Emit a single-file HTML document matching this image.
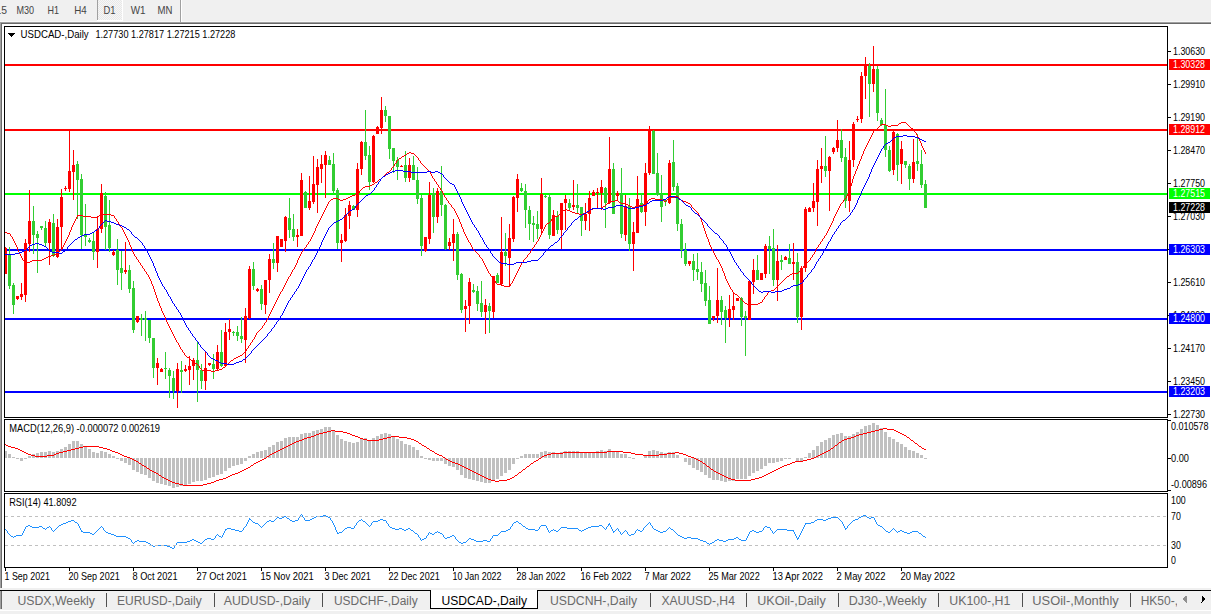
<!DOCTYPE html>
<html><head><meta charset="utf-8"><title>USDCAD-,Daily</title>
<style>html,body{margin:0;padding:0;background:#f0f0f0;overflow:hidden;width:1211px;height:614px}svg{display:block}text{font-family:"Liberation Sans",sans-serif;shape-rendering:auto}</style>
</head><body><svg width="1211" height="614" viewBox="0 0 1211 614" font-family='"Liberation Sans", sans-serif' shape-rendering="crispEdges"><rect x="0" y="0" width="1211" height="614" fill="#f0f0f0"/><rect x="0" y="21" width="1211" height="1" fill="#f8f8f8"/><rect x="0" y="22" width="1211" height="1" fill="#a0a0a0"/><rect x="0" y="23" width="1211" height="1" fill="#696969"/><rect x="0" y="22" width="1" height="567" fill="#a0a0a0"/><rect x="1" y="23" width="1" height="566" fill="#696969"/><rect x="2" y="24" width="1209" height="564" fill="#ffffff"/><defs><pattern id="chk" width="2" height="2" patternUnits="userSpaceOnUse"><rect width="2" height="2" fill="#f6f6f6"/><rect width="1" height="1" fill="#e8e8e8"/><rect x="1" y="1" width="1" height="1" fill="#e8e8e8"/></pattern></defs><rect x="98" y="0" width="24" height="20" fill="url(#chk)"/><rect x="97" y="0" width="1" height="20" fill="#a0a0a0"/><rect x="97" y="20" width="26" height="1" fill="#ffffff"/><rect x="122" y="0" width="1" height="20" fill="#ffffff"/><rect x="180" y="0" width="1" height="22" fill="#a0a0a0"/><rect x="181" y="0" width="1" height="22" fill="#ffffff"/><text x="-4.5" y="14" font-size="10.1" fill="#444444" textLength="11.5" lengthAdjust="spacingAndGlyphs">15</text><text x="16.4" y="14" font-size="10.1" fill="#444444" textLength="17.6" lengthAdjust="spacingAndGlyphs">M30</text><text x="47.5" y="14" font-size="10.1" fill="#444444" textLength="11.5" lengthAdjust="spacingAndGlyphs">H1</text><text x="74.3" y="14" font-size="10.1" fill="#444444" textLength="12.5" lengthAdjust="spacingAndGlyphs">H4</text><text x="103.4" y="14" font-size="10.1" fill="#444444" textLength="12" lengthAdjust="spacingAndGlyphs">D1</text><text x="130.8" y="14" font-size="10.1" fill="#444444" textLength="14.8" lengthAdjust="spacingAndGlyphs">W1</text><text x="157.5" y="14" font-size="10.1" fill="#444444" textLength="14.9" lengthAdjust="spacingAndGlyphs">MN</text><rect x="4.5" y="26.5" width="1163" height="391" fill="none" stroke="#000" stroke-width="1"/><rect x="4.5" y="419.5" width="1163" height="72" fill="none" stroke="#000" stroke-width="1"/><rect x="4.5" y="493.5" width="1163" height="74" fill="none" stroke="#000" stroke-width="1"/><rect x="1168" y="51" width="3" height="1" fill="#000"/><text x="1173" y="55" font-size="10.2" fill="#000" textLength="32" lengthAdjust="spacingAndGlyphs">1.30630</text><rect x="1168" y="84" width="3" height="1" fill="#000"/><text x="1173" y="88" font-size="10.2" fill="#000" textLength="32" lengthAdjust="spacingAndGlyphs">1.29910</text><rect x="1168" y="117" width="3" height="1" fill="#000"/><text x="1173" y="121" font-size="10.2" fill="#000" textLength="32" lengthAdjust="spacingAndGlyphs">1.29190</text><rect x="1168" y="150" width="3" height="1" fill="#000"/><text x="1173" y="154" font-size="10.2" fill="#000" textLength="32" lengthAdjust="spacingAndGlyphs">1.28470</text><rect x="1168" y="183" width="3" height="1" fill="#000"/><text x="1173" y="187" font-size="10.2" fill="#000" textLength="32" lengthAdjust="spacingAndGlyphs">1.27750</text><rect x="1168" y="216" width="3" height="1" fill="#000"/><text x="1173" y="220" font-size="10.2" fill="#000" textLength="32" lengthAdjust="spacingAndGlyphs">1.27030</text><rect x="1168" y="249" width="3" height="1" fill="#000"/><text x="1173" y="253" font-size="10.2" fill="#000" textLength="32" lengthAdjust="spacingAndGlyphs">1.26330</text><rect x="1168" y="282" width="3" height="1" fill="#000"/><text x="1173" y="286" font-size="10.2" fill="#000" textLength="32" lengthAdjust="spacingAndGlyphs">1.25610</text><rect x="1168" y="315" width="3" height="1" fill="#000"/><text x="1173" y="319" font-size="10.2" fill="#000" textLength="32" lengthAdjust="spacingAndGlyphs">1.24890</text><rect x="1168" y="348" width="3" height="1" fill="#000"/><text x="1173" y="352" font-size="10.2" fill="#000" textLength="32" lengthAdjust="spacingAndGlyphs">1.24170</text><rect x="1168" y="381" width="3" height="1" fill="#000"/><text x="1173" y="385" font-size="10.2" fill="#000" textLength="32" lengthAdjust="spacingAndGlyphs">1.23450</text><rect x="1168" y="414" width="3" height="1" fill="#000"/><text x="1173" y="418" font-size="10.2" fill="#000" textLength="32" lengthAdjust="spacingAndGlyphs">1.22730</text><rect x="5" y="568" width="1" height="3" fill="#000"/><text x="4.5" y="580" font-size="10.2" fill="#000" textLength="45.5" lengthAdjust="spacingAndGlyphs">1 Sep 2021</text><rect x="69" y="568" width="1" height="3" fill="#000"/><text x="68.5" y="580" font-size="10.2" fill="#000" textLength="51.2" lengthAdjust="spacingAndGlyphs">20 Sep 2021</text><rect x="133" y="568" width="1" height="3" fill="#000"/><text x="132.5" y="580" font-size="10.2" fill="#000" textLength="45" lengthAdjust="spacingAndGlyphs">8 Oct 2021</text><rect x="197" y="568" width="1" height="3" fill="#000"/><text x="196.5" y="580" font-size="10.2" fill="#000" textLength="50.4" lengthAdjust="spacingAndGlyphs">27 Oct 2021</text><rect x="261" y="568" width="1" height="3" fill="#000"/><text x="260.5" y="580" font-size="10.2" fill="#000" textLength="53.2" lengthAdjust="spacingAndGlyphs">15 Nov 2021</text><rect x="325" y="568" width="1" height="3" fill="#000"/><text x="324.5" y="580" font-size="10.2" fill="#000" textLength="46.3" lengthAdjust="spacingAndGlyphs">3 Dec 2021</text><rect x="389" y="568" width="1" height="3" fill="#000"/><text x="388.5" y="580" font-size="10.2" fill="#000" textLength="51.2" lengthAdjust="spacingAndGlyphs">22 Dec 2021</text><rect x="453" y="568" width="1" height="3" fill="#000"/><text x="452.5" y="580" font-size="10.2" fill="#000" textLength="49" lengthAdjust="spacingAndGlyphs">10 Jan 2022</text><rect x="517" y="568" width="1" height="3" fill="#000"/><text x="516.5" y="580" font-size="10.2" fill="#000" textLength="49" lengthAdjust="spacingAndGlyphs">28 Jan 2022</text><rect x="581" y="568" width="1" height="3" fill="#000"/><text x="580.5" y="580" font-size="10.2" fill="#000" textLength="51.2" lengthAdjust="spacingAndGlyphs">16 Feb 2022</text><rect x="645" y="568" width="1" height="3" fill="#000"/><text x="644.5" y="580" font-size="10.2" fill="#000" textLength="46.3" lengthAdjust="spacingAndGlyphs">7 Mar 2022</text><rect x="709" y="568" width="1" height="3" fill="#000"/><text x="708.5" y="580" font-size="10.2" fill="#000" textLength="51.2" lengthAdjust="spacingAndGlyphs">25 Mar 2022</text><rect x="773" y="568" width="1" height="3" fill="#000"/><text x="772.5" y="580" font-size="10.2" fill="#000" textLength="50.4" lengthAdjust="spacingAndGlyphs">13 Apr 2022</text><rect x="837" y="568" width="1" height="3" fill="#000"/><text x="836.5" y="580" font-size="10.2" fill="#000" textLength="49" lengthAdjust="spacingAndGlyphs">2 May 2022</text><rect x="901" y="568" width="1" height="3" fill="#000"/><text x="900.5" y="580" font-size="10.2" fill="#000" textLength="54.5" lengthAdjust="spacingAndGlyphs">20 May 2022</text><g clip-path="url(#mainclip)"><clipPath id="mainclip"><rect x="5" y="27" width="1162" height="390"/></clipPath><rect x="5" y="64" width="1162" height="2" fill="#ff0000"/><rect x="5" y="129" width="1162" height="2" fill="#ff0000"/><rect x="5" y="193" width="1162" height="2" fill="#00ff00"/><rect x="5" y="249" width="1162" height="2" fill="#0000ff"/><rect x="5" y="318" width="1162" height="2" fill="#0000ff"/><rect x="5" y="391" width="1162" height="2" fill="#0000ff"/><rect x="5" y="247" width="1" height="27" fill="#ff0000"/><rect x="4" y="248" width="3" height="26" fill="#ff0000"/><rect x="9" y="247" width="1" height="42" fill="#32cd32"/><rect x="8" y="254" width="3" height="32" fill="#32cd32"/><rect x="13" y="283" width="1" height="31" fill="#32cd32"/><rect x="12" y="285" width="3" height="20" fill="#32cd32"/><rect x="17" y="296" width="1" height="4" fill="#ff0000"/><rect x="16" y="296" width="3" height="3" fill="#ff0000"/><rect x="21" y="283" width="1" height="17" fill="#ff0000"/><rect x="20" y="294" width="3" height="3" fill="#ff0000"/><rect x="25" y="239" width="1" height="63" fill="#ff0000"/><rect x="24" y="243" width="3" height="52" fill="#ff0000"/><rect x="29" y="190" width="1" height="62" fill="#ff0000"/><rect x="28" y="221" width="3" height="23" fill="#ff0000"/><rect x="33" y="206" width="1" height="48" fill="#32cd32"/><rect x="32" y="221" width="3" height="14" fill="#32cd32"/><rect x="37" y="231" width="1" height="42" fill="#32cd32"/><rect x="36" y="234" width="3" height="4" fill="#32cd32"/><rect x="41" y="226" width="1" height="4" fill="#32cd32"/><rect x="40" y="226" width="3" height="2" fill="#32cd32"/><rect x="45" y="221" width="1" height="26" fill="#32cd32"/><rect x="44" y="228" width="3" height="15" fill="#32cd32"/><rect x="49" y="219" width="1" height="46" fill="#ff0000"/><rect x="48" y="222" width="3" height="21" fill="#ff0000"/><rect x="53" y="214" width="1" height="43" fill="#32cd32"/><rect x="52" y="223" width="3" height="33" fill="#32cd32"/><rect x="57" y="219" width="1" height="39" fill="#ff0000"/><rect x="56" y="227" width="3" height="30" fill="#ff0000"/><rect x="61" y="189" width="1" height="60" fill="#ff0000"/><rect x="60" y="197" width="3" height="30" fill="#ff0000"/><rect x="65" y="186" width="1" height="5" fill="#ff0000"/><rect x="64" y="188" width="3" height="1" fill="#ff0000"/><rect x="69" y="130" width="1" height="62" fill="#ff0000"/><rect x="68" y="171" width="3" height="18" fill="#ff0000"/><rect x="73" y="150" width="1" height="50" fill="#ff0000"/><rect x="72" y="165" width="3" height="7" fill="#ff0000"/><rect x="77" y="161" width="1" height="58" fill="#32cd32"/><rect x="76" y="164" width="3" height="16" fill="#32cd32"/><rect x="81" y="174" width="1" height="75" fill="#32cd32"/><rect x="80" y="179" width="3" height="56" fill="#32cd32"/><rect x="85" y="204" width="1" height="42" fill="#32cd32"/><rect x="84" y="235" width="3" height="2" fill="#32cd32"/><rect x="89" y="238" width="1" height="5" fill="#32cd32"/><rect x="88" y="240" width="3" height="2" fill="#32cd32"/><rect x="93" y="232" width="1" height="28" fill="#32cd32"/><rect x="92" y="241" width="3" height="11" fill="#32cd32"/><rect x="97" y="216" width="1" height="52" fill="#ff0000"/><rect x="96" y="229" width="3" height="23" fill="#ff0000"/><rect x="101" y="184" width="1" height="49" fill="#ff0000"/><rect x="100" y="193" width="3" height="36" fill="#ff0000"/><rect x="105" y="192" width="1" height="58" fill="#32cd32"/><rect x="104" y="196" width="3" height="31" fill="#32cd32"/><rect x="109" y="200" width="1" height="52" fill="#32cd32"/><rect x="108" y="225" width="3" height="23" fill="#32cd32"/><rect x="113" y="250" width="1" height="6" fill="#ff0000"/><rect x="112" y="252" width="3" height="3" fill="#ff0000"/><rect x="117" y="239" width="1" height="46" fill="#32cd32"/><rect x="116" y="250" width="3" height="20" fill="#32cd32"/><rect x="121" y="251" width="1" height="39" fill="#32cd32"/><rect x="120" y="268" width="3" height="5" fill="#32cd32"/><rect x="125" y="242" width="1" height="32" fill="#ff0000"/><rect x="124" y="270" width="3" height="2" fill="#ff0000"/><rect x="129" y="265" width="1" height="28" fill="#32cd32"/><rect x="128" y="270" width="3" height="19" fill="#32cd32"/><rect x="133" y="281" width="1" height="52" fill="#32cd32"/><rect x="132" y="288" width="3" height="42" fill="#32cd32"/><rect x="137" y="316" width="1" height="7" fill="#ff0000"/><rect x="136" y="316" width="3" height="6" fill="#ff0000"/><rect x="141" y="314" width="1" height="22" fill="#32cd32"/><rect x="140" y="318" width="3" height="2" fill="#32cd32"/><rect x="145" y="311" width="1" height="30" fill="#32cd32"/><rect x="144" y="318" width="3" height="2" fill="#32cd32"/><rect x="149" y="320" width="1" height="23" fill="#32cd32"/><rect x="148" y="320" width="3" height="18" fill="#32cd32"/><rect x="153" y="338" width="1" height="40" fill="#32cd32"/><rect x="152" y="338" width="3" height="30" fill="#32cd32"/><rect x="157" y="358" width="1" height="27" fill="#ff0000"/><rect x="156" y="363" width="3" height="5" fill="#ff0000"/><rect x="161" y="368" width="1" height="4" fill="#ff0000"/><rect x="160" y="369" width="3" height="3" fill="#ff0000"/><rect x="165" y="352" width="1" height="27" fill="#32cd32"/><rect x="164" y="368" width="3" height="1" fill="#32cd32"/><rect x="169" y="368" width="1" height="30" fill="#32cd32"/><rect x="168" y="370" width="3" height="6" fill="#32cd32"/><rect x="173" y="371" width="1" height="28" fill="#32cd32"/><rect x="172" y="378" width="3" height="13" fill="#32cd32"/><rect x="177" y="363" width="1" height="45" fill="#ff0000"/><rect x="176" y="369" width="3" height="22" fill="#ff0000"/><rect x="181" y="361" width="1" height="32" fill="#32cd32"/><rect x="180" y="370" width="3" height="2" fill="#32cd32"/><rect x="185" y="365" width="1" height="7" fill="#ff0000"/><rect x="184" y="369" width="3" height="2" fill="#ff0000"/><rect x="189" y="356" width="1" height="29" fill="#ff0000"/><rect x="188" y="366" width="3" height="4" fill="#ff0000"/><rect x="193" y="358" width="1" height="22" fill="#ff0000"/><rect x="192" y="360" width="3" height="6" fill="#ff0000"/><rect x="197" y="341" width="1" height="61" fill="#32cd32"/><rect x="196" y="360" width="3" height="10" fill="#32cd32"/><rect x="201" y="364" width="1" height="25" fill="#32cd32"/><rect x="200" y="370" width="3" height="11" fill="#32cd32"/><rect x="205" y="352" width="1" height="38" fill="#ff0000"/><rect x="204" y="368" width="3" height="13" fill="#ff0000"/><rect x="209" y="363" width="1" height="3" fill="#ff0000"/><rect x="208" y="363" width="3" height="2" fill="#ff0000"/><rect x="213" y="354" width="1" height="25" fill="#32cd32"/><rect x="212" y="364" width="3" height="5" fill="#32cd32"/><rect x="217" y="345" width="1" height="25" fill="#ff0000"/><rect x="216" y="352" width="3" height="17" fill="#ff0000"/><rect x="221" y="330" width="1" height="37" fill="#32cd32"/><rect x="220" y="352" width="3" height="14" fill="#32cd32"/><rect x="225" y="323" width="1" height="44" fill="#ff0000"/><rect x="224" y="332" width="3" height="34" fill="#ff0000"/><rect x="229" y="319" width="1" height="21" fill="#ff0000"/><rect x="228" y="329" width="3" height="3" fill="#ff0000"/><rect x="233" y="331" width="1" height="5" fill="#32cd32"/><rect x="232" y="332" width="3" height="1" fill="#32cd32"/><rect x="237" y="326" width="1" height="15" fill="#32cd32"/><rect x="236" y="332" width="3" height="4" fill="#32cd32"/><rect x="241" y="317" width="1" height="26" fill="#32cd32"/><rect x="240" y="336" width="3" height="3" fill="#32cd32"/><rect x="245" y="308" width="1" height="55" fill="#ff0000"/><rect x="244" y="316" width="3" height="24" fill="#ff0000"/><rect x="249" y="266" width="1" height="53" fill="#ff0000"/><rect x="248" y="269" width="3" height="49" fill="#ff0000"/><rect x="253" y="262" width="1" height="28" fill="#32cd32"/><rect x="252" y="269" width="3" height="17" fill="#32cd32"/><rect x="257" y="288" width="1" height="4" fill="#ff0000"/><rect x="256" y="289" width="3" height="2" fill="#ff0000"/><rect x="261" y="285" width="1" height="25" fill="#32cd32"/><rect x="260" y="289" width="3" height="15" fill="#32cd32"/><rect x="265" y="280" width="1" height="34" fill="#ff0000"/><rect x="264" y="280" width="3" height="25" fill="#ff0000"/><rect x="269" y="254" width="1" height="39" fill="#ff0000"/><rect x="268" y="259" width="3" height="21" fill="#ff0000"/><rect x="273" y="243" width="1" height="26" fill="#32cd32"/><rect x="272" y="259" width="3" height="4" fill="#32cd32"/><rect x="277" y="236" width="1" height="36" fill="#ff0000"/><rect x="276" y="236" width="3" height="27" fill="#ff0000"/><rect x="281" y="239" width="1" height="8" fill="#ff0000"/><rect x="280" y="239" width="3" height="8" fill="#ff0000"/><rect x="285" y="216" width="1" height="36" fill="#ff0000"/><rect x="284" y="217" width="3" height="24" fill="#ff0000"/><rect x="289" y="198" width="1" height="40" fill="#32cd32"/><rect x="288" y="218" width="3" height="12" fill="#32cd32"/><rect x="293" y="214" width="1" height="27" fill="#32cd32"/><rect x="292" y="229" width="3" height="8" fill="#32cd32"/><rect x="297" y="229" width="1" height="18" fill="#ff0000"/><rect x="296" y="235" width="3" height="2" fill="#ff0000"/><rect x="301" y="173" width="1" height="63" fill="#ff0000"/><rect x="300" y="180" width="3" height="56" fill="#ff0000"/><rect x="305" y="191" width="1" height="17" fill="#32cd32"/><rect x="304" y="192" width="3" height="16" fill="#32cd32"/><rect x="309" y="176" width="1" height="34" fill="#ff0000"/><rect x="308" y="201" width="3" height="7" fill="#ff0000"/><rect x="313" y="156" width="1" height="48" fill="#ff0000"/><rect x="312" y="184" width="3" height="18" fill="#ff0000"/><rect x="317" y="159" width="1" height="54" fill="#ff0000"/><rect x="316" y="167" width="3" height="18" fill="#ff0000"/><rect x="321" y="155" width="1" height="28" fill="#ff0000"/><rect x="320" y="164" width="3" height="5" fill="#ff0000"/><rect x="325" y="151" width="1" height="47" fill="#ff0000"/><rect x="324" y="155" width="3" height="10" fill="#ff0000"/><rect x="329" y="156" width="1" height="9" fill="#32cd32"/><rect x="328" y="160" width="3" height="5" fill="#32cd32"/><rect x="333" y="153" width="1" height="41" fill="#32cd32"/><rect x="332" y="164" width="3" height="27" fill="#32cd32"/><rect x="337" y="188" width="1" height="61" fill="#32cd32"/><rect x="336" y="190" width="3" height="53" fill="#32cd32"/><rect x="341" y="234" width="1" height="28" fill="#ff0000"/><rect x="340" y="240" width="3" height="3" fill="#ff0000"/><rect x="345" y="208" width="1" height="34" fill="#ff0000"/><rect x="344" y="215" width="3" height="26" fill="#ff0000"/><rect x="349" y="201" width="1" height="28" fill="#ff0000"/><rect x="348" y="205" width="3" height="11" fill="#ff0000"/><rect x="353" y="205" width="1" height="5" fill="#32cd32"/><rect x="352" y="206" width="3" height="4" fill="#32cd32"/><rect x="357" y="163" width="1" height="54" fill="#ff0000"/><rect x="356" y="169" width="3" height="41" fill="#ff0000"/><rect x="361" y="141" width="1" height="34" fill="#ff0000"/><rect x="360" y="142" width="3" height="27" fill="#ff0000"/><rect x="365" y="110" width="1" height="50" fill="#32cd32"/><rect x="364" y="142" width="3" height="14" fill="#32cd32"/><rect x="369" y="146" width="1" height="44" fill="#32cd32"/><rect x="368" y="155" width="3" height="27" fill="#32cd32"/><rect x="373" y="135" width="1" height="48" fill="#ff0000"/><rect x="372" y="136" width="3" height="46" fill="#ff0000"/><rect x="377" y="126" width="1" height="8" fill="#ff0000"/><rect x="376" y="127" width="3" height="7" fill="#ff0000"/><rect x="381" y="97" width="1" height="37" fill="#ff0000"/><rect x="380" y="110" width="3" height="18" fill="#ff0000"/><rect x="385" y="106" width="1" height="16" fill="#32cd32"/><rect x="384" y="110" width="3" height="6" fill="#32cd32"/><rect x="389" y="116" width="1" height="43" fill="#32cd32"/><rect x="388" y="116" width="3" height="33" fill="#32cd32"/><rect x="393" y="148" width="1" height="25" fill="#32cd32"/><rect x="392" y="148" width="3" height="13" fill="#32cd32"/><rect x="397" y="157" width="1" height="23" fill="#32cd32"/><rect x="396" y="160" width="3" height="7" fill="#32cd32"/><rect x="401" y="165" width="1" height="2" fill="#ff0000"/><rect x="400" y="166" width="3" height="1" fill="#ff0000"/><rect x="405" y="151" width="1" height="31" fill="#32cd32"/><rect x="404" y="165" width="3" height="13" fill="#32cd32"/><rect x="409" y="158" width="1" height="24" fill="#ff0000"/><rect x="408" y="165" width="3" height="13" fill="#ff0000"/><rect x="413" y="156" width="1" height="24" fill="#32cd32"/><rect x="412" y="165" width="3" height="15" fill="#32cd32"/><rect x="417" y="167" width="1" height="37" fill="#32cd32"/><rect x="416" y="180" width="3" height="19" fill="#32cd32"/><rect x="421" y="195" width="1" height="61" fill="#32cd32"/><rect x="420" y="198" width="3" height="48" fill="#32cd32"/><rect x="425" y="237" width="1" height="15" fill="#ff0000"/><rect x="424" y="237" width="3" height="14" fill="#ff0000"/><rect x="429" y="182" width="1" height="62" fill="#ff0000"/><rect x="428" y="195" width="3" height="44" fill="#ff0000"/><rect x="433" y="188" width="1" height="45" fill="#32cd32"/><rect x="432" y="193" width="3" height="24" fill="#32cd32"/><rect x="437" y="188" width="1" height="35" fill="#ff0000"/><rect x="436" y="191" width="3" height="26" fill="#ff0000"/><rect x="441" y="166" width="1" height="50" fill="#32cd32"/><rect x="440" y="191" width="3" height="14" fill="#32cd32"/><rect x="445" y="204" width="1" height="46" fill="#32cd32"/><rect x="444" y="205" width="3" height="44" fill="#32cd32"/><rect x="449" y="238" width="1" height="12" fill="#ff0000"/><rect x="448" y="242" width="3" height="4" fill="#ff0000"/><rect x="453" y="219" width="1" height="42" fill="#ff0000"/><rect x="452" y="234" width="3" height="9" fill="#ff0000"/><rect x="457" y="232" width="1" height="48" fill="#32cd32"/><rect x="456" y="234" width="3" height="41" fill="#32cd32"/><rect x="461" y="273" width="1" height="40" fill="#32cd32"/><rect x="460" y="274" width="3" height="36" fill="#32cd32"/><rect x="465" y="300" width="1" height="32" fill="#ff0000"/><rect x="464" y="306" width="3" height="3" fill="#ff0000"/><rect x="469" y="278" width="1" height="46" fill="#ff0000"/><rect x="468" y="282" width="3" height="24" fill="#ff0000"/><rect x="473" y="284" width="1" height="9" fill="#32cd32"/><rect x="472" y="290" width="3" height="2" fill="#32cd32"/><rect x="477" y="286" width="1" height="25" fill="#32cd32"/><rect x="476" y="291" width="3" height="13" fill="#32cd32"/><rect x="481" y="281" width="1" height="36" fill="#32cd32"/><rect x="480" y="303" width="3" height="9" fill="#32cd32"/><rect x="485" y="299" width="1" height="35" fill="#ff0000"/><rect x="484" y="305" width="3" height="7" fill="#ff0000"/><rect x="489" y="303" width="1" height="30" fill="#32cd32"/><rect x="488" y="306" width="3" height="5" fill="#32cd32"/><rect x="493" y="276" width="1" height="42" fill="#ff0000"/><rect x="492" y="276" width="3" height="36" fill="#ff0000"/><rect x="497" y="273" width="1" height="10" fill="#32cd32"/><rect x="496" y="275" width="3" height="8" fill="#32cd32"/><rect x="501" y="217" width="1" height="69" fill="#ff0000"/><rect x="500" y="252" width="3" height="32" fill="#ff0000"/><rect x="505" y="233" width="1" height="33" fill="#32cd32"/><rect x="504" y="252" width="3" height="4" fill="#32cd32"/><rect x="509" y="224" width="1" height="62" fill="#ff0000"/><rect x="508" y="238" width="3" height="20" fill="#ff0000"/><rect x="513" y="196" width="1" height="46" fill="#ff0000"/><rect x="512" y="197" width="3" height="42" fill="#ff0000"/><rect x="517" y="174" width="1" height="38" fill="#ff0000"/><rect x="516" y="179" width="3" height="19" fill="#ff0000"/><rect x="521" y="183" width="1" height="9" fill="#32cd32"/><rect x="520" y="188" width="3" height="3" fill="#32cd32"/><rect x="525" y="184" width="1" height="44" fill="#32cd32"/><rect x="524" y="191" width="3" height="19" fill="#32cd32"/><rect x="529" y="206" width="1" height="34" fill="#32cd32"/><rect x="528" y="210" width="3" height="14" fill="#32cd32"/><rect x="533" y="216" width="1" height="26" fill="#32cd32"/><rect x="532" y="223" width="3" height="2" fill="#32cd32"/><rect x="537" y="211" width="1" height="28" fill="#32cd32"/><rect x="536" y="224" width="3" height="5" fill="#32cd32"/><rect x="541" y="178" width="1" height="57" fill="#ff0000"/><rect x="540" y="194" width="3" height="35" fill="#ff0000"/><rect x="545" y="195" width="1" height="3" fill="#32cd32"/><rect x="544" y="196" width="3" height="1" fill="#32cd32"/><rect x="549" y="193" width="1" height="46" fill="#32cd32"/><rect x="548" y="197" width="3" height="38" fill="#32cd32"/><rect x="553" y="210" width="1" height="26" fill="#ff0000"/><rect x="552" y="215" width="3" height="21" fill="#ff0000"/><rect x="557" y="211" width="1" height="23" fill="#32cd32"/><rect x="556" y="216" width="3" height="14" fill="#32cd32"/><rect x="561" y="203" width="1" height="46" fill="#ff0000"/><rect x="560" y="203" width="3" height="27" fill="#ff0000"/><rect x="565" y="195" width="1" height="35" fill="#ff0000"/><rect x="564" y="199" width="3" height="4" fill="#ff0000"/><rect x="569" y="199" width="1" height="11" fill="#32cd32"/><rect x="568" y="203" width="3" height="5" fill="#32cd32"/><rect x="573" y="180" width="1" height="30" fill="#ff0000"/><rect x="572" y="205" width="3" height="2" fill="#ff0000"/><rect x="577" y="184" width="1" height="30" fill="#32cd32"/><rect x="576" y="205" width="3" height="3" fill="#32cd32"/><rect x="581" y="207" width="1" height="29" fill="#32cd32"/><rect x="580" y="207" width="3" height="14" fill="#32cd32"/><rect x="585" y="203" width="1" height="27" fill="#ff0000"/><rect x="584" y="214" width="3" height="7" fill="#ff0000"/><rect x="589" y="191" width="1" height="40" fill="#ff0000"/><rect x="588" y="198" width="3" height="16" fill="#ff0000"/><rect x="593" y="190" width="1" height="6" fill="#ff0000"/><rect x="592" y="192" width="3" height="4" fill="#ff0000"/><rect x="597" y="188" width="1" height="20" fill="#ff0000"/><rect x="596" y="192" width="3" height="1" fill="#ff0000"/><rect x="601" y="180" width="1" height="30" fill="#ff0000"/><rect x="600" y="187" width="3" height="6" fill="#ff0000"/><rect x="605" y="187" width="1" height="41" fill="#32cd32"/><rect x="604" y="188" width="3" height="15" fill="#32cd32"/><rect x="609" y="137" width="1" height="67" fill="#ff0000"/><rect x="608" y="169" width="3" height="34" fill="#ff0000"/><rect x="613" y="163" width="1" height="51" fill="#32cd32"/><rect x="612" y="169" width="3" height="45" fill="#32cd32"/><rect x="617" y="191" width="1" height="10" fill="#ff0000"/><rect x="616" y="193" width="3" height="3" fill="#ff0000"/><rect x="621" y="168" width="1" height="70" fill="#32cd32"/><rect x="620" y="194" width="3" height="40" fill="#32cd32"/><rect x="625" y="195" width="1" height="46" fill="#ff0000"/><rect x="624" y="206" width="3" height="29" fill="#ff0000"/><rect x="629" y="198" width="1" height="53" fill="#32cd32"/><rect x="628" y="206" width="3" height="38" fill="#32cd32"/><rect x="633" y="222" width="1" height="49" fill="#ff0000"/><rect x="632" y="232" width="3" height="12" fill="#ff0000"/><rect x="637" y="176" width="1" height="57" fill="#ff0000"/><rect x="636" y="199" width="3" height="34" fill="#ff0000"/><rect x="641" y="193" width="1" height="20" fill="#32cd32"/><rect x="640" y="203" width="3" height="9" fill="#32cd32"/><rect x="645" y="163" width="1" height="63" fill="#ff0000"/><rect x="644" y="173" width="3" height="39" fill="#ff0000"/><rect x="649" y="126" width="1" height="49" fill="#ff0000"/><rect x="648" y="131" width="3" height="42" fill="#ff0000"/><rect x="653" y="130" width="1" height="44" fill="#32cd32"/><rect x="652" y="131" width="3" height="43" fill="#32cd32"/><rect x="657" y="153" width="1" height="43" fill="#32cd32"/><rect x="656" y="173" width="3" height="22" fill="#32cd32"/><rect x="661" y="175" width="1" height="47" fill="#32cd32"/><rect x="660" y="194" width="3" height="13" fill="#32cd32"/><rect x="665" y="200" width="1" height="6" fill="#32cd32"/><rect x="664" y="200" width="3" height="2" fill="#32cd32"/><rect x="669" y="160" width="1" height="44" fill="#ff0000"/><rect x="668" y="163" width="3" height="40" fill="#ff0000"/><rect x="673" y="140" width="1" height="51" fill="#32cd32"/><rect x="672" y="162" width="3" height="25" fill="#32cd32"/><rect x="677" y="183" width="1" height="48" fill="#32cd32"/><rect x="676" y="186" width="3" height="38" fill="#32cd32"/><rect x="681" y="219" width="1" height="39" fill="#32cd32"/><rect x="680" y="224" width="3" height="26" fill="#32cd32"/><rect x="685" y="243" width="1" height="23" fill="#32cd32"/><rect x="684" y="250" width="3" height="14" fill="#32cd32"/><rect x="689" y="261" width="1" height="5" fill="#ff0000"/><rect x="688" y="261" width="3" height="3" fill="#ff0000"/><rect x="693" y="254" width="1" height="27" fill="#32cd32"/><rect x="692" y="261" width="3" height="9" fill="#32cd32"/><rect x="697" y="253" width="1" height="27" fill="#32cd32"/><rect x="696" y="269" width="3" height="3" fill="#32cd32"/><rect x="701" y="262" width="1" height="30" fill="#32cd32"/><rect x="700" y="272" width="3" height="12" fill="#32cd32"/><rect x="705" y="270" width="1" height="36" fill="#32cd32"/><rect x="704" y="283" width="3" height="18" fill="#32cd32"/><rect x="709" y="286" width="1" height="38" fill="#32cd32"/><rect x="708" y="300" width="3" height="24" fill="#32cd32"/><rect x="713" y="316" width="1" height="5" fill="#ff0000"/><rect x="712" y="316" width="3" height="2" fill="#ff0000"/><rect x="717" y="268" width="1" height="55" fill="#ff0000"/><rect x="716" y="300" width="3" height="16" fill="#ff0000"/><rect x="721" y="296" width="1" height="29" fill="#32cd32"/><rect x="720" y="300" width="3" height="12" fill="#32cd32"/><rect x="725" y="306" width="1" height="37" fill="#32cd32"/><rect x="724" y="310" width="3" height="8" fill="#32cd32"/><rect x="729" y="295" width="1" height="32" fill="#ff0000"/><rect x="728" y="309" width="3" height="9" fill="#ff0000"/><rect x="733" y="293" width="1" height="27" fill="#ff0000"/><rect x="732" y="306" width="3" height="4" fill="#ff0000"/><rect x="737" y="298" width="1" height="3" fill="#ff0000"/><rect x="736" y="298" width="3" height="3" fill="#ff0000"/><rect x="741" y="297" width="1" height="29" fill="#32cd32"/><rect x="740" y="298" width="3" height="19" fill="#32cd32"/><rect x="745" y="311" width="1" height="45" fill="#32cd32"/><rect x="744" y="316" width="3" height="2" fill="#32cd32"/><rect x="749" y="281" width="1" height="39" fill="#ff0000"/><rect x="748" y="281" width="3" height="39" fill="#ff0000"/><rect x="753" y="259" width="1" height="35" fill="#ff0000"/><rect x="752" y="270" width="3" height="12" fill="#ff0000"/><rect x="757" y="255" width="1" height="25" fill="#32cd32"/><rect x="756" y="270" width="3" height="10" fill="#32cd32"/><rect x="761" y="273" width="1" height="7" fill="#ff0000"/><rect x="760" y="273" width="3" height="7" fill="#ff0000"/><rect x="765" y="244" width="1" height="34" fill="#ff0000"/><rect x="764" y="246" width="3" height="28" fill="#ff0000"/><rect x="769" y="236" width="1" height="38" fill="#32cd32"/><rect x="768" y="246" width="3" height="3" fill="#32cd32"/><rect x="773" y="229" width="1" height="57" fill="#32cd32"/><rect x="772" y="248" width="3" height="32" fill="#32cd32"/><rect x="777" y="245" width="1" height="56" fill="#ff0000"/><rect x="776" y="261" width="3" height="19" fill="#ff0000"/><rect x="781" y="255" width="1" height="15" fill="#32cd32"/><rect x="780" y="260" width="3" height="2" fill="#32cd32"/><rect x="785" y="256" width="1" height="4" fill="#ff0000"/><rect x="784" y="257" width="3" height="3" fill="#ff0000"/><rect x="789" y="244" width="1" height="20" fill="#32cd32"/><rect x="788" y="258" width="3" height="6" fill="#32cd32"/><rect x="793" y="243" width="1" height="37" fill="#ff0000"/><rect x="792" y="262" width="3" height="2" fill="#ff0000"/><rect x="797" y="253" width="1" height="70" fill="#32cd32"/><rect x="796" y="262" width="3" height="55" fill="#32cd32"/><rect x="801" y="266" width="1" height="64" fill="#ff0000"/><rect x="800" y="268" width="3" height="49" fill="#ff0000"/><rect x="805" y="207" width="1" height="65" fill="#ff0000"/><rect x="804" y="209" width="3" height="59" fill="#ff0000"/><rect x="809" y="207" width="1" height="5" fill="#ff0000"/><rect x="808" y="208" width="3" height="4" fill="#ff0000"/><rect x="813" y="183" width="1" height="29" fill="#ff0000"/><rect x="812" y="201" width="3" height="7" fill="#ff0000"/><rect x="817" y="160" width="1" height="66" fill="#ff0000"/><rect x="816" y="169" width="3" height="33" fill="#ff0000"/><rect x="821" y="148" width="1" height="35" fill="#ff0000"/><rect x="820" y="166" width="3" height="3" fill="#ff0000"/><rect x="825" y="136" width="1" height="41" fill="#32cd32"/><rect x="824" y="166" width="3" height="5" fill="#32cd32"/><rect x="829" y="156" width="1" height="55" fill="#ff0000"/><rect x="828" y="157" width="3" height="14" fill="#ff0000"/><rect x="833" y="147" width="1" height="7" fill="#ff0000"/><rect x="832" y="148" width="3" height="4" fill="#ff0000"/><rect x="837" y="120" width="1" height="32" fill="#ff0000"/><rect x="836" y="140" width="3" height="8" fill="#ff0000"/><rect x="841" y="129" width="1" height="33" fill="#32cd32"/><rect x="840" y="140" width="3" height="18" fill="#32cd32"/><rect x="845" y="148" width="1" height="60" fill="#32cd32"/><rect x="844" y="157" width="3" height="44" fill="#32cd32"/><rect x="849" y="141" width="1" height="71" fill="#ff0000"/><rect x="848" y="160" width="3" height="41" fill="#ff0000"/><rect x="853" y="122" width="1" height="45" fill="#ff0000"/><rect x="852" y="124" width="3" height="36" fill="#ff0000"/><rect x="857" y="116" width="1" height="6" fill="#ff0000"/><rect x="856" y="119" width="3" height="1" fill="#ff0000"/><rect x="861" y="72" width="1" height="51" fill="#ff0000"/><rect x="860" y="76" width="3" height="43" fill="#ff0000"/><rect x="865" y="57" width="1" height="42" fill="#ff0000"/><rect x="864" y="66" width="3" height="10" fill="#ff0000"/><rect x="869" y="63" width="1" height="54" fill="#32cd32"/><rect x="868" y="66" width="3" height="18" fill="#32cd32"/><rect x="873" y="46" width="1" height="46" fill="#ff0000"/><rect x="872" y="69" width="3" height="15" fill="#ff0000"/><rect x="877" y="66" width="1" height="55" fill="#32cd32"/><rect x="876" y="69" width="3" height="44" fill="#32cd32"/><rect x="881" y="118" width="1" height="8" fill="#32cd32"/><rect x="880" y="120" width="3" height="5" fill="#32cd32"/><rect x="885" y="89" width="1" height="68" fill="#32cd32"/><rect x="884" y="125" width="3" height="25" fill="#32cd32"/><rect x="889" y="146" width="1" height="26" fill="#32cd32"/><rect x="888" y="150" width="3" height="21" fill="#32cd32"/><rect x="893" y="131" width="1" height="44" fill="#ff0000"/><rect x="892" y="132" width="3" height="38" fill="#ff0000"/><rect x="897" y="133" width="1" height="48" fill="#32cd32"/><rect x="896" y="134" width="3" height="31" fill="#32cd32"/><rect x="901" y="141" width="1" height="43" fill="#ff0000"/><rect x="900" y="149" width="3" height="15" fill="#ff0000"/><rect x="905" y="161" width="1" height="7" fill="#32cd32"/><rect x="904" y="161" width="3" height="4" fill="#32cd32"/><rect x="909" y="164" width="1" height="26" fill="#32cd32"/><rect x="908" y="166" width="3" height="13" fill="#32cd32"/><rect x="913" y="139" width="1" height="44" fill="#ff0000"/><rect x="912" y="162" width="3" height="17" fill="#ff0000"/><rect x="917" y="134" width="1" height="37" fill="#32cd32"/><rect x="916" y="161" width="3" height="3" fill="#32cd32"/><rect x="921" y="150" width="1" height="38" fill="#32cd32"/><rect x="920" y="164" width="3" height="21" fill="#32cd32"/><rect x="925" y="180" width="1" height="28" fill="#32cd32"/><rect x="924" y="184" width="3" height="24" fill="#32cd32"/><path d="M901 122h5v1h-5zM899 123h2v1h-2zM906 123h1v1h-1zM881 124h5v1h-5zM898 124h1v1h-1zM907 124h1v1h-1zM880 125h1v1h-1zM886 125h2v1h-2zM891 125h7v1h-7zM908 125h1v1h-1zM879 126h1v1h-1zM888 126h3v1h-3zM909 126h1v1h-1zM878 127h1v1h-1zM910 127h1v1h-1zM877 128h1v1h-1zM911 128h2v1h-2zM875 129h2v1h-2zM913 129h1v1h-1zM874 130h1v1h-1zM914 130h1v1h-1zM873 131h1v1h-1zM914 131h1v1h-1zM873 132h1v1h-1zM915 132h1v1h-1zM872 133h1v1h-1zM916 133h1v1h-1zM872 134h1v1h-1zM916 134h1v1h-1zM871 135h1v1h-1zM917 135h1v1h-1zM871 136h1v1h-1zM917 136h1v1h-1zM870 137h1v1h-1zM918 137h1v1h-1zM870 138h1v1h-1zM918 138h1v1h-1zM869 139h1v1h-1zM919 139h1v1h-1zM869 140h1v1h-1zM919 140h1v1h-1zM868 141h1v1h-1zM920 141h1v1h-1zM868 142h1v1h-1zM920 142h1v1h-1zM867 143h1v1h-1zM921 143h1v1h-1zM867 144h1v1h-1zM921 144h1v1h-1zM866 145h1v1h-1zM921 145h1v1h-1zM866 146h1v1h-1zM922 146h1v1h-1zM865 147h1v1h-1zM922 147h1v1h-1zM865 148h1v1h-1zM923 148h1v1h-1zM864 149h1v1h-1zM923 149h1v1h-1zM864 150h1v1h-1zM924 150h1v1h-1zM863 151h1v1h-1zM924 151h1v1h-1zM409 152h2v1h-2zM863 152h1v1h-1zM925 152h1v1h-1zM407 153h2v1h-2zM411 153h3v1h-3zM863 153h1v1h-1zM925 153h1v1h-1zM406 154h1v1h-1zM414 154h1v1h-1zM862 154h1v1h-1zM404 155h2v1h-2zM415 155h1v1h-1zM862 155h1v1h-1zM402 156h2v1h-2zM416 156h1v1h-1zM861 156h1v1h-1zM401 157h1v1h-1zM417 157h1v1h-1zM861 157h1v1h-1zM399 158h2v1h-2zM418 158h1v1h-1zM861 158h1v1h-1zM398 159h1v1h-1zM418 159h1v1h-1zM860 159h1v1h-1zM397 160h1v1h-1zM419 160h1v1h-1zM860 160h1v1h-1zM396 161h1v1h-1zM420 161h1v1h-1zM859 161h1v1h-1zM396 162h1v1h-1zM420 162h1v1h-1zM859 162h1v1h-1zM395 163h1v1h-1zM421 163h1v1h-1zM859 163h1v1h-1zM394 164h1v1h-1zM422 164h1v1h-1zM858 164h1v1h-1zM394 165h1v1h-1zM423 165h1v1h-1zM858 165h1v1h-1zM393 166h1v1h-1zM424 166h1v1h-1zM857 166h1v1h-1zM392 167h1v1h-1zM425 167h1v1h-1zM857 167h1v1h-1zM391 168h1v1h-1zM426 168h1v1h-1zM857 168h1v1h-1zM391 169h1v1h-1zM427 169h1v1h-1zM856 169h1v1h-1zM390 170h1v1h-1zM428 170h1v1h-1zM856 170h1v1h-1zM389 171h1v1h-1zM429 171h1v1h-1zM855 171h1v1h-1zM387 172h2v1h-2zM430 172h1v1h-1zM855 172h1v1h-1zM386 173h1v1h-1zM430 173h1v1h-1zM855 173h1v1h-1zM385 174h1v1h-1zM431 174h1v1h-1zM854 174h1v1h-1zM384 175h1v1h-1zM431 175h1v1h-1zM854 175h1v1h-1zM383 176h1v1h-1zM432 176h1v1h-1zM853 176h1v1h-1zM382 177h1v1h-1zM432 177h1v1h-1zM853 177h1v1h-1zM381 178h1v1h-1zM433 178h1v1h-1zM853 178h1v1h-1zM379 179h2v1h-2zM434 179h1v1h-1zM852 179h1v1h-1zM378 180h1v1h-1zM434 180h1v1h-1zM852 180h1v1h-1zM377 181h1v1h-1zM435 181h1v1h-1zM852 181h1v1h-1zM375 182h2v1h-2zM436 182h1v1h-1zM852 182h1v1h-1zM374 183h1v1h-1zM436 183h1v1h-1zM851 183h1v1h-1zM372 184h2v1h-2zM437 184h1v1h-1zM851 184h1v1h-1zM370 185h2v1h-2zM438 185h1v1h-1zM851 185h1v1h-1zM365 186h5v1h-5zM438 186h1v1h-1zM850 186h1v1h-1zM363 187h2v1h-2zM439 187h1v1h-1zM850 187h1v1h-1zM362 188h1v1h-1zM440 188h1v1h-1zM850 188h1v1h-1zM361 189h1v1h-1zM440 189h1v1h-1zM850 189h1v1h-1zM360 190h1v1h-1zM441 190h1v1h-1zM849 190h1v1h-1zM359 191h1v1h-1zM442 191h1v1h-1zM849 191h1v1h-1zM359 192h1v1h-1zM442 192h1v1h-1zM848 192h1v1h-1zM358 193h1v1h-1zM443 193h1v1h-1zM848 193h1v1h-1zM355 194h3v1h-3zM443 194h1v1h-1zM847 194h1v1h-1zM352 195h3v1h-3zM444 195h1v1h-1zM847 195h1v1h-1zM350 196h2v1h-2zM444 196h1v1h-1zM675 196h3v1h-3zM846 196h1v1h-1zM348 197h2v1h-2zM445 197h1v1h-1zM671 197h4v1h-4zM678 197h1v1h-1zM846 197h1v1h-1zM333 198h5v1h-5zM346 198h2v1h-2zM446 198h1v1h-1zM651 198h4v1h-4zM669 198h2v1h-2zM679 198h1v1h-1zM845 198h1v1h-1zM331 199h2v1h-2zM338 199h2v1h-2zM343 199h3v1h-3zM446 199h1v1h-1zM649 199h2v1h-2zM655 199h7v1h-7zM667 199h2v1h-2zM680 199h1v1h-1zM844 199h1v1h-1zM330 200h1v1h-1zM340 200h3v1h-3zM447 200h1v1h-1zM615 200h3v1h-3zM648 200h1v1h-1zM662 200h2v1h-2zM666 200h1v1h-1zM681 200h2v1h-2zM843 200h1v1h-1zM329 201h1v1h-1zM448 201h1v1h-1zM611 201h4v1h-4zM618 201h1v1h-1zM647 201h1v1h-1zM664 201h2v1h-2zM683 201h3v1h-3zM843 201h1v1h-1zM328 202h1v1h-1zM448 202h1v1h-1zM609 202h2v1h-2zM619 202h2v1h-2zM647 202h1v1h-1zM686 202h2v1h-2zM842 202h1v1h-1zM328 203h1v1h-1zM449 203h1v1h-1zM607 203h2v1h-2zM621 203h5v1h-5zM646 203h1v1h-1zM688 203h2v1h-2zM841 203h1v1h-1zM327 204h1v1h-1zM450 204h1v1h-1zM606 204h1v1h-1zM626 204h2v1h-2zM643 204h3v1h-3zM690 204h1v1h-1zM840 204h1v1h-1zM327 205h1v1h-1zM451 205h1v1h-1zM605 205h1v1h-1zM628 205h2v1h-2zM639 205h4v1h-4zM691 205h1v1h-1zM840 205h1v1h-1zM326 206h1v1h-1zM451 206h1v1h-1zM603 206h2v1h-2zM630 206h2v1h-2zM635 206h4v1h-4zM691 206h1v1h-1zM839 206h1v1h-1zM326 207h1v1h-1zM452 207h1v1h-1zM602 207h1v1h-1zM632 207h3v1h-3zM692 207h1v1h-1zM839 207h1v1h-1zM325 208h1v1h-1zM453 208h1v1h-1zM593 208h9v1h-9zM693 208h1v1h-1zM838 208h1v1h-1zM325 209h1v1h-1zM454 209h1v1h-1zM565 209h2v1h-2zM591 209h2v1h-2zM694 209h1v1h-1zM838 209h1v1h-1zM324 210h1v1h-1zM454 210h1v1h-1zM563 210h2v1h-2zM567 210h3v1h-3zM590 210h1v1h-1zM695 210h1v1h-1zM837 210h1v1h-1zM324 211h1v1h-1zM455 211h1v1h-1zM562 211h1v1h-1zM570 211h2v1h-2zM588 211h2v1h-2zM696 211h1v1h-1zM837 211h1v1h-1zM323 212h1v1h-1zM455 212h1v1h-1zM561 212h1v1h-1zM572 212h3v1h-3zM586 212h2v1h-2zM697 212h1v1h-1zM836 212h1v1h-1zM323 213h1v1h-1zM456 213h1v1h-1zM560 213h1v1h-1zM575 213h4v1h-4zM583 213h3v1h-3zM698 213h1v1h-1zM836 213h1v1h-1zM101 214h10v1h-10zM322 214h1v1h-1zM456 214h1v1h-1zM559 214h1v1h-1zM579 214h4v1h-4zM698 214h1v1h-1zM835 214h1v1h-1zM77 215h6v1h-6zM99 215h2v1h-2zM111 215h3v1h-3zM322 215h1v1h-1zM457 215h1v1h-1zM558 215h1v1h-1zM699 215h1v1h-1zM835 215h1v1h-1zM77 216h1v1h-1zM83 216h8v1h-8zM98 216h1v1h-1zM114 216h1v1h-1zM321 216h1v1h-1zM457 216h1v1h-1zM555 216h3v1h-3zM699 216h1v1h-1zM834 216h1v1h-1zM76 217h1v1h-1zM91 217h7v1h-7zM114 217h1v1h-1zM321 217h1v1h-1zM458 217h1v1h-1zM553 217h2v1h-2zM700 217h1v1h-1zM834 217h1v1h-1zM76 218h1v1h-1zM115 218h1v1h-1zM320 218h1v1h-1zM458 218h1v1h-1zM552 218h1v1h-1zM700 218h1v1h-1zM833 218h1v1h-1zM75 219h1v1h-1zM116 219h1v1h-1zM320 219h1v1h-1zM459 219h1v1h-1zM551 219h1v1h-1zM701 219h1v1h-1zM833 219h1v1h-1zM75 220h1v1h-1zM116 220h1v1h-1zM319 220h1v1h-1zM459 220h1v1h-1zM551 220h1v1h-1zM701 220h1v1h-1zM833 220h1v1h-1zM74 221h1v1h-1zM117 221h1v1h-1zM319 221h1v1h-1zM459 221h1v1h-1zM550 221h1v1h-1zM701 221h1v1h-1zM832 221h1v1h-1zM74 222h1v1h-1zM118 222h1v1h-1zM318 222h1v1h-1zM460 222h1v1h-1zM549 222h1v1h-1zM702 222h1v1h-1zM832 222h1v1h-1zM73 223h1v1h-1zM118 223h1v1h-1zM318 223h1v1h-1zM460 223h1v1h-1zM547 223h2v1h-2zM702 223h1v1h-1zM831 223h1v1h-1zM73 224h1v1h-1zM119 224h1v1h-1zM317 224h1v1h-1zM461 224h1v1h-1zM546 224h1v1h-1zM702 224h1v1h-1zM831 224h1v1h-1zM72 225h1v1h-1zM120 225h1v1h-1zM317 225h1v1h-1zM461 225h1v1h-1zM545 225h1v1h-1zM703 225h1v1h-1zM830 225h1v1h-1zM72 226h1v1h-1zM120 226h1v1h-1zM316 226h1v1h-1zM461 226h1v1h-1zM545 226h1v1h-1zM703 226h1v1h-1zM830 226h1v1h-1zM71 227h1v1h-1zM121 227h1v1h-1zM316 227h1v1h-1zM462 227h1v1h-1zM544 227h1v1h-1zM703 227h1v1h-1zM829 227h1v1h-1zM71 228h1v1h-1zM122 228h1v1h-1zM315 228h1v1h-1zM462 228h1v1h-1zM544 228h1v1h-1zM704 228h1v1h-1zM829 228h1v1h-1zM71 229h1v1h-1zM122 229h1v1h-1zM315 229h1v1h-1zM463 229h1v1h-1zM543 229h1v1h-1zM704 229h1v1h-1zM828 229h1v1h-1zM70 230h1v1h-1zM123 230h1v1h-1zM315 230h1v1h-1zM463 230h1v1h-1zM543 230h1v1h-1zM704 230h1v1h-1zM828 230h1v1h-1zM70 231h1v1h-1zM123 231h1v1h-1zM314 231h1v1h-1zM463 231h1v1h-1zM542 231h1v1h-1zM705 231h1v1h-1zM827 231h1v1h-1zM5 232h2v1h-2zM69 232h1v1h-1zM124 232h1v1h-1zM314 232h1v1h-1zM464 232h1v1h-1zM542 232h1v1h-1zM705 232h1v1h-1zM827 232h1v1h-1zM7 233h3v1h-3zM69 233h1v1h-1zM124 233h1v1h-1zM313 233h1v1h-1zM464 233h1v1h-1zM541 233h1v1h-1zM705 233h1v1h-1zM826 233h1v1h-1zM10 234h1v1h-1zM69 234h1v1h-1zM125 234h1v1h-1zM313 234h1v1h-1zM465 234h1v1h-1zM541 234h1v1h-1zM706 234h1v1h-1zM826 234h1v1h-1zM10 235h1v1h-1zM68 235h1v1h-1zM125 235h1v1h-1zM312 235h1v1h-1zM465 235h1v1h-1zM540 235h1v1h-1zM706 235h1v1h-1zM825 235h1v1h-1zM11 236h1v1h-1zM68 236h1v1h-1zM126 236h1v1h-1zM312 236h1v1h-1zM466 236h1v1h-1zM540 236h1v1h-1zM706 236h1v1h-1zM824 236h1v1h-1zM12 237h1v1h-1zM67 237h1v1h-1zM126 237h1v1h-1zM311 237h1v1h-1zM466 237h1v1h-1zM539 237h1v1h-1zM707 237h1v1h-1zM824 237h1v1h-1zM12 238h1v1h-1zM67 238h1v1h-1zM127 238h1v1h-1zM311 238h1v1h-1zM467 238h1v1h-1zM539 238h1v1h-1zM707 238h1v1h-1zM823 238h1v1h-1zM13 239h1v1h-1zM66 239h1v1h-1zM127 239h1v1h-1zM310 239h1v1h-1zM467 239h1v1h-1zM538 239h1v1h-1zM708 239h1v1h-1zM822 239h1v1h-1zM13 240h1v1h-1zM66 240h1v1h-1zM128 240h1v1h-1zM310 240h1v1h-1zM468 240h1v1h-1zM538 240h1v1h-1zM708 240h1v1h-1zM822 240h1v1h-1zM14 241h1v1h-1zM65 241h1v1h-1zM128 241h1v1h-1zM309 241h1v1h-1zM468 241h1v1h-1zM537 241h1v1h-1zM708 241h1v1h-1zM821 241h1v1h-1zM14 242h1v1h-1zM65 242h1v1h-1zM129 242h1v1h-1zM308 242h1v1h-1zM469 242h1v1h-1zM536 242h1v1h-1zM709 242h1v1h-1zM820 242h1v1h-1zM15 243h1v1h-1zM64 243h1v1h-1zM129 243h1v1h-1zM308 243h1v1h-1zM470 243h1v1h-1zM536 243h1v1h-1zM709 243h1v1h-1zM820 243h1v1h-1zM15 244h1v1h-1zM64 244h1v1h-1zM129 244h1v1h-1zM307 244h1v1h-1zM470 244h1v1h-1zM535 244h1v1h-1zM709 244h1v1h-1zM819 244h1v1h-1zM16 245h1v1h-1zM63 245h1v1h-1zM130 245h1v1h-1zM306 245h1v1h-1zM471 245h1v1h-1zM534 245h1v1h-1zM710 245h1v1h-1zM818 245h1v1h-1zM16 246h1v1h-1zM63 246h1v1h-1zM130 246h1v1h-1zM306 246h1v1h-1zM471 246h1v1h-1zM534 246h1v1h-1zM710 246h1v1h-1zM818 246h1v1h-1zM17 247h1v1h-1zM62 247h1v1h-1zM131 247h1v1h-1zM305 247h1v1h-1zM472 247h1v1h-1zM533 247h1v1h-1zM711 247h1v1h-1zM817 247h1v1h-1zM17 248h1v1h-1zM62 248h1v1h-1zM131 248h1v1h-1zM304 248h1v1h-1zM472 248h1v1h-1zM532 248h1v1h-1zM711 248h1v1h-1zM816 248h1v1h-1zM17 249h1v1h-1zM61 249h1v1h-1zM131 249h1v1h-1zM303 249h1v1h-1zM473 249h1v1h-1zM532 249h1v1h-1zM712 249h1v1h-1zM816 249h1v1h-1zM18 250h1v1h-1zM60 250h1v1h-1zM132 250h1v1h-1zM303 250h1v1h-1zM474 250h1v1h-1zM531 250h1v1h-1zM712 250h1v1h-1zM815 250h1v1h-1zM18 251h1v1h-1zM59 251h1v1h-1zM132 251h1v1h-1zM302 251h1v1h-1zM475 251h1v1h-1zM530 251h1v1h-1zM713 251h1v1h-1zM815 251h1v1h-1zM19 252h1v1h-1zM58 252h1v1h-1zM133 252h1v1h-1zM301 252h1v1h-1zM476 252h1v1h-1zM530 252h1v1h-1zM713 252h1v1h-1zM814 252h1v1h-1zM19 253h1v1h-1zM56 253h2v1h-2zM133 253h1v1h-1zM301 253h1v1h-1zM477 253h1v1h-1zM529 253h1v1h-1zM714 253h1v1h-1zM814 253h1v1h-1zM20 254h1v1h-1zM54 254h2v1h-2zM134 254h1v1h-1zM300 254h1v1h-1zM478 254h1v1h-1zM528 254h1v1h-1zM714 254h1v1h-1zM813 254h1v1h-1zM20 255h1v1h-1zM51 255h3v1h-3zM134 255h1v1h-1zM300 255h1v1h-1zM479 255h1v1h-1zM527 255h1v1h-1zM715 255h1v1h-1zM812 255h1v1h-1zM21 256h1v1h-1zM48 256h3v1h-3zM135 256h1v1h-1zM299 256h1v1h-1zM479 256h1v1h-1zM527 256h1v1h-1zM715 256h1v1h-1zM812 256h1v1h-1zM21 257h1v1h-1zM46 257h2v1h-2zM136 257h1v1h-1zM299 257h1v1h-1zM480 257h1v1h-1zM526 257h1v1h-1zM716 257h1v1h-1zM811 257h1v1h-1zM22 258h1v1h-1zM44 258h2v1h-2zM136 258h1v1h-1zM298 258h1v1h-1zM481 258h1v1h-1zM525 258h1v1h-1zM716 258h1v1h-1zM810 258h1v1h-1zM22 259h1v1h-1zM42 259h2v1h-2zM137 259h1v1h-1zM298 259h1v1h-1zM482 259h1v1h-1zM524 259h1v1h-1zM717 259h1v1h-1zM810 259h1v1h-1zM23 260h1v1h-1zM32 260h10v1h-10zM138 260h1v1h-1zM297 260h1v1h-1zM482 260h1v1h-1zM523 260h1v1h-1zM718 260h1v1h-1zM809 260h1v1h-1zM24 261h1v1h-1zM30 261h2v1h-2zM138 261h1v1h-1zM297 261h1v1h-1zM483 261h1v1h-1zM523 261h1v1h-1zM718 261h1v1h-1zM808 261h1v1h-1zM24 262h1v1h-1zM27 262h3v1h-3zM139 262h1v1h-1zM297 262h1v1h-1zM483 262h1v1h-1zM522 262h1v1h-1zM719 262h1v1h-1zM807 262h1v1h-1zM25 263h2v1h-2zM140 263h1v1h-1zM296 263h1v1h-1zM484 263h1v1h-1zM521 263h1v1h-1zM719 263h1v1h-1zM806 263h1v1h-1zM140 264h1v1h-1zM296 264h1v1h-1zM484 264h1v1h-1zM521 264h1v1h-1zM720 264h1v1h-1zM805 264h1v1h-1zM141 265h1v1h-1zM295 265h1v1h-1zM485 265h1v1h-1zM520 265h1v1h-1zM720 265h1v1h-1zM804 265h1v1h-1zM142 266h1v1h-1zM295 266h1v1h-1zM485 266h1v1h-1zM520 266h1v1h-1zM721 266h1v1h-1zM803 266h1v1h-1zM142 267h1v1h-1zM294 267h1v1h-1zM486 267h1v1h-1zM519 267h1v1h-1zM721 267h1v1h-1zM803 267h1v1h-1zM143 268h1v1h-1zM294 268h1v1h-1zM486 268h1v1h-1zM519 268h1v1h-1zM722 268h1v1h-1zM802 268h1v1h-1zM144 269h1v1h-1zM293 269h1v1h-1zM487 269h1v1h-1zM518 269h1v1h-1zM722 269h1v1h-1zM801 269h1v1h-1zM144 270h1v1h-1zM292 270h1v1h-1zM487 270h1v1h-1zM518 270h1v1h-1zM722 270h1v1h-1zM800 270h1v1h-1zM145 271h1v1h-1zM292 271h1v1h-1zM488 271h1v1h-1zM517 271h1v1h-1zM723 271h1v1h-1zM799 271h1v1h-1zM146 272h1v1h-1zM291 272h1v1h-1zM488 272h1v1h-1zM517 272h1v1h-1zM723 272h1v1h-1zM798 272h1v1h-1zM146 273h1v1h-1zM291 273h1v1h-1zM489 273h1v1h-1zM516 273h1v1h-1zM724 273h1v1h-1zM792 273h6v1h-6zM147 274h1v1h-1zM290 274h1v1h-1zM490 274h1v1h-1zM516 274h1v1h-1zM724 274h1v1h-1zM790 274h2v1h-2zM148 275h1v1h-1zM290 275h1v1h-1zM490 275h1v1h-1zM515 275h1v1h-1zM724 275h1v1h-1zM789 275h1v1h-1zM148 276h1v1h-1zM289 276h1v1h-1zM491 276h1v1h-1zM515 276h1v1h-1zM725 276h1v1h-1zM787 276h2v1h-2zM149 277h1v1h-1zM288 277h1v1h-1zM492 277h1v1h-1zM514 277h1v1h-1zM725 277h1v1h-1zM786 277h1v1h-1zM149 278h1v1h-1zM288 278h1v1h-1zM492 278h1v1h-1zM514 278h1v1h-1zM725 278h1v1h-1zM785 278h1v1h-1zM150 279h1v1h-1zM287 279h1v1h-1zM493 279h1v1h-1zM513 279h1v1h-1zM726 279h1v1h-1zM784 279h1v1h-1zM150 280h1v1h-1zM287 280h1v1h-1zM494 280h1v1h-1zM513 280h1v1h-1zM726 280h1v1h-1zM783 280h1v1h-1zM151 281h1v1h-1zM286 281h1v1h-1zM495 281h1v1h-1zM512 281h1v1h-1zM727 281h1v1h-1zM782 281h1v1h-1zM151 282h1v1h-1zM286 282h1v1h-1zM495 282h1v1h-1zM512 282h1v1h-1zM727 282h1v1h-1zM781 282h1v1h-1zM151 283h1v1h-1zM285 283h1v1h-1zM496 283h1v1h-1zM511 283h1v1h-1zM728 283h1v1h-1zM780 283h1v1h-1zM152 284h1v1h-1zM285 284h1v1h-1zM497 284h5v1h-5zM510 284h1v1h-1zM728 284h1v1h-1zM779 284h1v1h-1zM152 285h1v1h-1zM284 285h1v1h-1zM502 285h2v1h-2zM510 285h1v1h-1zM729 285h1v1h-1zM778 285h1v1h-1zM153 286h1v1h-1zM284 286h1v1h-1zM504 286h6v1h-6zM729 286h1v1h-1zM777 286h1v1h-1zM153 287h1v1h-1zM283 287h1v1h-1zM730 287h1v1h-1zM776 287h1v1h-1zM153 288h1v1h-1zM283 288h1v1h-1zM730 288h1v1h-1zM775 288h1v1h-1zM154 289h1v1h-1zM282 289h1v1h-1zM731 289h1v1h-1zM774 289h1v1h-1zM154 290h1v1h-1zM282 290h1v1h-1zM732 290h1v1h-1zM771 290h3v1h-3zM154 291h1v1h-1zM281 291h1v1h-1zM732 291h1v1h-1zM769 291h2v1h-2zM155 292h1v1h-1zM280 292h1v1h-1zM733 292h1v1h-1zM768 292h1v1h-1zM155 293h1v1h-1zM280 293h1v1h-1zM734 293h1v1h-1zM767 293h1v1h-1zM155 294h1v1h-1zM279 294h1v1h-1zM735 294h2v1h-2zM767 294h1v1h-1zM156 295h1v1h-1zM279 295h1v1h-1zM737 295h1v1h-1zM766 295h1v1h-1zM156 296h1v1h-1zM278 296h1v1h-1zM738 296h1v1h-1zM765 296h1v1h-1zM156 297h1v1h-1zM278 297h1v1h-1zM739 297h1v1h-1zM764 297h1v1h-1zM157 298h1v1h-1zM277 298h1v1h-1zM740 298h1v1h-1zM764 298h1v1h-1zM157 299h1v1h-1zM277 299h1v1h-1zM741 299h1v1h-1zM763 299h1v1h-1zM157 300h1v1h-1zM276 300h1v1h-1zM742 300h1v1h-1zM762 300h1v1h-1zM158 301h1v1h-1zM276 301h1v1h-1zM743 301h1v1h-1zM762 301h1v1h-1zM158 302h1v1h-1zM275 302h1v1h-1zM744 302h1v1h-1zM760 302h2v1h-2zM159 303h1v1h-1zM275 303h1v1h-1zM745 303h2v1h-2zM758 303h2v1h-2zM159 304h1v1h-1zM274 304h1v1h-1zM747 304h11v1h-11zM159 305h1v1h-1zM274 305h1v1h-1zM160 306h1v1h-1zM273 306h1v1h-1zM160 307h1v1h-1zM273 307h1v1h-1zM161 308h1v1h-1zM272 308h1v1h-1zM161 309h1v1h-1zM272 309h1v1h-1zM161 310h1v1h-1zM271 310h1v1h-1zM162 311h1v1h-1zM271 311h1v1h-1zM162 312h1v1h-1zM270 312h1v1h-1zM163 313h1v1h-1zM270 313h1v1h-1zM163 314h1v1h-1zM269 314h1v1h-1zM164 315h1v1h-1zM269 315h1v1h-1zM164 316h1v1h-1zM268 316h1v1h-1zM165 317h1v1h-1zM268 317h1v1h-1zM165 318h1v1h-1zM267 318h1v1h-1zM165 319h1v1h-1zM267 319h1v1h-1zM166 320h1v1h-1zM266 320h1v1h-1zM166 321h1v1h-1zM266 321h1v1h-1zM167 322h1v1h-1zM265 322h1v1h-1zM167 323h1v1h-1zM264 323h1v1h-1zM168 324h1v1h-1zM264 324h1v1h-1zM168 325h1v1h-1zM263 325h1v1h-1zM169 326h1v1h-1zM262 326h1v1h-1zM169 327h1v1h-1zM262 327h1v1h-1zM170 328h1v1h-1zM261 328h1v1h-1zM170 329h1v1h-1zM260 329h1v1h-1zM171 330h1v1h-1zM259 330h1v1h-1zM171 331h1v1h-1zM258 331h1v1h-1zM172 332h1v1h-1zM257 332h1v1h-1zM172 333h1v1h-1zM256 333h1v1h-1zM173 334h1v1h-1zM256 334h1v1h-1zM173 335h1v1h-1zM255 335h1v1h-1zM174 336h1v1h-1zM255 336h1v1h-1zM174 337h1v1h-1zM254 337h1v1h-1zM175 338h1v1h-1zM254 338h1v1h-1zM175 339h1v1h-1zM253 339h1v1h-1zM176 340h1v1h-1zM252 340h1v1h-1zM176 341h1v1h-1zM252 341h1v1h-1zM177 342h1v1h-1zM251 342h1v1h-1zM178 343h1v1h-1zM250 343h1v1h-1zM178 344h1v1h-1zM250 344h1v1h-1zM179 345h1v1h-1zM249 345h1v1h-1zM179 346h1v1h-1zM248 346h1v1h-1zM180 347h1v1h-1zM248 347h1v1h-1zM180 348h1v1h-1zM247 348h1v1h-1zM181 349h1v1h-1zM246 349h1v1h-1zM182 350h1v1h-1zM246 350h1v1h-1zM182 351h1v1h-1zM245 351h1v1h-1zM183 352h1v1h-1zM244 352h1v1h-1zM184 353h1v1h-1zM243 353h1v1h-1zM184 354h1v1h-1zM242 354h1v1h-1zM185 355h1v1h-1zM240 355h2v1h-2zM186 356h1v1h-1zM238 356h2v1h-2zM187 357h2v1h-2zM236 357h2v1h-2zM189 358h1v1h-1zM234 358h2v1h-2zM190 359h1v1h-1zM233 359h1v1h-1zM191 360h2v1h-2zM231 360h2v1h-2zM193 361h1v1h-1zM230 361h1v1h-1zM194 362h1v1h-1zM229 362h1v1h-1zM195 363h2v1h-2zM228 363h1v1h-1zM197 364h1v1h-1zM227 364h1v1h-1zM198 365h1v1h-1zM226 365h1v1h-1zM199 366h1v1h-1zM225 366h1v1h-1zM199 367h1v1h-1zM223 367h2v1h-2zM200 368h1v1h-1zM222 368h1v1h-1zM201 369h1v1h-1zM219 369h3v1h-3zM202 370h2v1h-2zM207 370h4v1h-4zM215 370h4v1h-4zM204 371h3v1h-3zM211 371h4v1h-4z" fill="#ff0000"/><path d="M903 135h4v1h-4zM896 136h7v1h-7zM907 136h8v1h-8zM894 137h2v1h-2zM915 137h3v1h-3zM893 138h1v1h-1zM918 138h2v1h-2zM892 139h1v1h-1zM920 139h2v1h-2zM891 140h1v1h-1zM922 140h2v1h-2zM890 141h1v1h-1zM924 141h2v1h-2zM888 142h2v1h-2zM886 143h2v1h-2zM885 144h1v1h-1zM884 145h1v1h-1zM883 146h1v1h-1zM883 147h1v1h-1zM882 148h1v1h-1zM881 149h1v1h-1zM881 150h1v1h-1zM880 151h1v1h-1zM880 152h1v1h-1zM879 153h1v1h-1zM879 154h1v1h-1zM878 155h1v1h-1zM878 156h1v1h-1zM877 157h1v1h-1zM877 158h1v1h-1zM876 159h1v1h-1zM876 160h1v1h-1zM875 161h1v1h-1zM875 162h1v1h-1zM874 163h1v1h-1zM874 164h1v1h-1zM873 165h1v1h-1zM873 166h1v1h-1zM872 167h1v1h-1zM872 168h1v1h-1zM871 169h1v1h-1zM395 170h8v1h-8zM871 170h1v1h-1zM392 171h3v1h-3zM403 171h8v1h-8zM427 171h4v1h-4zM435 171h3v1h-3zM871 171h1v1h-1zM390 172h2v1h-2zM411 172h16v1h-16zM431 172h4v1h-4zM438 172h2v1h-2zM870 172h1v1h-1zM388 173h2v1h-2zM440 173h2v1h-2zM870 173h1v1h-1zM386 174h2v1h-2zM442 174h1v1h-1zM869 174h1v1h-1zM385 175h1v1h-1zM443 175h1v1h-1zM869 175h1v1h-1zM383 176h2v1h-2zM443 176h1v1h-1zM869 176h1v1h-1zM382 177h1v1h-1zM444 177h1v1h-1zM868 177h1v1h-1zM381 178h1v1h-1zM445 178h1v1h-1zM868 178h1v1h-1zM380 179h1v1h-1zM446 179h1v1h-1zM867 179h1v1h-1zM380 180h1v1h-1zM447 180h1v1h-1zM867 180h1v1h-1zM379 181h1v1h-1zM448 181h1v1h-1zM866 181h1v1h-1zM378 182h1v1h-1zM449 182h1v1h-1zM866 182h1v1h-1zM378 183h1v1h-1zM450 183h2v1h-2zM865 183h1v1h-1zM377 184h1v1h-1zM452 184h2v1h-2zM865 184h1v1h-1zM376 185h1v1h-1zM454 185h1v1h-1zM864 185h1v1h-1zM376 186h1v1h-1zM454 186h1v1h-1zM864 186h1v1h-1zM375 187h1v1h-1zM455 187h1v1h-1zM863 187h1v1h-1zM374 188h1v1h-1zM455 188h1v1h-1zM863 188h1v1h-1zM374 189h1v1h-1zM456 189h1v1h-1zM862 189h1v1h-1zM373 190h1v1h-1zM456 190h1v1h-1zM862 190h1v1h-1zM372 191h1v1h-1zM457 191h1v1h-1zM861 191h1v1h-1zM371 192h1v1h-1zM457 192h1v1h-1zM861 192h1v1h-1zM370 193h1v1h-1zM458 193h1v1h-1zM861 193h1v1h-1zM368 194h2v1h-2zM458 194h1v1h-1zM860 194h1v1h-1zM366 195h2v1h-2zM459 195h1v1h-1zM860 195h1v1h-1zM365 196h1v1h-1zM459 196h1v1h-1zM669 196h6v1h-6zM859 196h1v1h-1zM364 197h1v1h-1zM460 197h1v1h-1zM667 197h2v1h-2zM675 197h3v1h-3zM859 197h1v1h-1zM363 198h1v1h-1zM460 198h1v1h-1zM666 198h1v1h-1zM678 198h1v1h-1zM858 198h1v1h-1zM362 199h1v1h-1zM461 199h1v1h-1zM663 199h3v1h-3zM679 199h2v1h-2zM858 199h1v1h-1zM361 200h1v1h-1zM461 200h1v1h-1zM652 200h11v1h-11zM681 200h1v1h-1zM857 200h1v1h-1zM360 201h1v1h-1zM461 201h1v1h-1zM650 201h2v1h-2zM682 201h1v1h-1zM857 201h1v1h-1zM359 202h1v1h-1zM462 202h1v1h-1zM649 202h1v1h-1zM683 202h1v1h-1zM857 202h1v1h-1zM358 203h1v1h-1zM462 203h1v1h-1zM647 203h2v1h-2zM684 203h1v1h-1zM856 203h1v1h-1zM357 204h1v1h-1zM463 204h1v1h-1zM646 204h1v1h-1zM685 204h1v1h-1zM856 204h1v1h-1zM356 205h1v1h-1zM463 205h1v1h-1zM616 205h7v1h-7zM643 205h3v1h-3zM686 205h2v1h-2zM855 205h1v1h-1zM355 206h1v1h-1zM464 206h1v1h-1zM614 206h2v1h-2zM623 206h3v1h-3zM639 206h4v1h-4zM688 206h2v1h-2zM855 206h1v1h-1zM355 207h1v1h-1zM464 207h1v1h-1zM608 207h6v1h-6zM626 207h2v1h-2zM635 207h4v1h-4zM690 207h1v1h-1zM854 207h1v1h-1zM354 208h1v1h-1zM465 208h1v1h-1zM592 208h11v1h-11zM606 208h2v1h-2zM628 208h7v1h-7zM691 208h1v1h-1zM854 208h1v1h-1zM352 209h2v1h-2zM465 209h1v1h-1zM590 209h2v1h-2zM603 209h3v1h-3zM691 209h1v1h-1zM853 209h1v1h-1zM350 210h2v1h-2zM466 210h1v1h-1zM589 210h1v1h-1zM692 210h1v1h-1zM852 210h1v1h-1zM349 211h1v1h-1zM466 211h1v1h-1zM587 211h2v1h-2zM693 211h1v1h-1zM852 211h1v1h-1zM348 212h1v1h-1zM467 212h1v1h-1zM586 212h1v1h-1zM694 212h1v1h-1zM851 212h1v1h-1zM347 213h1v1h-1zM467 213h1v1h-1zM584 213h2v1h-2zM695 213h2v1h-2zM850 213h1v1h-1zM346 214h1v1h-1zM468 214h1v1h-1zM582 214h2v1h-2zM697 214h1v1h-1zM850 214h1v1h-1zM345 215h1v1h-1zM468 215h1v1h-1zM581 215h1v1h-1zM698 215h1v1h-1zM849 215h1v1h-1zM344 216h1v1h-1zM469 216h1v1h-1zM579 216h2v1h-2zM699 216h1v1h-1zM848 216h1v1h-1zM343 217h1v1h-1zM469 217h1v1h-1zM578 217h1v1h-1zM700 217h1v1h-1zM847 217h1v1h-1zM342 218h1v1h-1zM470 218h1v1h-1zM577 218h1v1h-1zM701 218h1v1h-1zM846 218h1v1h-1zM340 219h2v1h-2zM470 219h1v1h-1zM575 219h2v1h-2zM702 219h1v1h-1zM845 219h1v1h-1zM105 220h2v1h-2zM338 220h2v1h-2zM471 220h1v1h-1zM574 220h1v1h-1zM703 220h1v1h-1zM843 220h2v1h-2zM104 221h1v1h-1zM107 221h4v1h-4zM336 221h2v1h-2zM471 221h1v1h-1zM573 221h1v1h-1zM704 221h1v1h-1zM842 221h1v1h-1zM103 222h1v1h-1zM111 222h3v1h-3zM334 222h2v1h-2zM472 222h1v1h-1zM572 222h1v1h-1zM705 222h1v1h-1zM841 222h1v1h-1zM102 223h1v1h-1zM114 223h2v1h-2zM333 223h1v1h-1zM472 223h1v1h-1zM571 223h1v1h-1zM706 223h1v1h-1zM840 223h1v1h-1zM101 224h1v1h-1zM116 224h3v1h-3zM332 224h1v1h-1zM473 224h1v1h-1zM571 224h1v1h-1zM707 224h1v1h-1zM840 224h1v1h-1zM100 225h1v1h-1zM119 225h3v1h-3zM331 225h1v1h-1zM474 225h1v1h-1zM570 225h1v1h-1zM707 225h1v1h-1zM839 225h1v1h-1zM99 226h1v1h-1zM122 226h2v1h-2zM330 226h1v1h-1zM474 226h1v1h-1zM569 226h1v1h-1zM708 226h1v1h-1zM838 226h1v1h-1zM99 227h1v1h-1zM124 227h2v1h-2zM329 227h1v1h-1zM475 227h1v1h-1zM568 227h1v1h-1zM709 227h1v1h-1zM838 227h1v1h-1zM98 228h1v1h-1zM126 228h1v1h-1zM328 228h1v1h-1zM476 228h1v1h-1zM567 228h1v1h-1zM710 228h1v1h-1zM837 228h1v1h-1zM97 229h1v1h-1zM127 229h2v1h-2zM328 229h1v1h-1zM476 229h1v1h-1zM567 229h1v1h-1zM711 229h1v1h-1zM836 229h1v1h-1zM95 230h2v1h-2zM129 230h1v1h-1zM327 230h1v1h-1zM477 230h1v1h-1zM566 230h1v1h-1zM712 230h1v1h-1zM836 230h1v1h-1zM94 231h1v1h-1zM130 231h1v1h-1zM327 231h1v1h-1zM478 231h1v1h-1zM565 231h1v1h-1zM713 231h1v1h-1zM835 231h1v1h-1zM92 232h2v1h-2zM131 232h1v1h-1zM326 232h1v1h-1zM478 232h1v1h-1zM564 232h1v1h-1zM714 232h1v1h-1zM834 232h1v1h-1zM90 233h2v1h-2zM131 233h1v1h-1zM326 233h1v1h-1zM479 233h1v1h-1zM563 233h1v1h-1zM715 233h2v1h-2zM834 233h1v1h-1zM84 234h6v1h-6zM132 234h1v1h-1zM325 234h1v1h-1zM479 234h1v1h-1zM563 234h1v1h-1zM717 234h1v1h-1zM833 234h1v1h-1zM82 235h2v1h-2zM133 235h1v1h-1zM325 235h1v1h-1zM480 235h1v1h-1zM562 235h1v1h-1zM718 235h1v1h-1zM832 235h1v1h-1zM80 236h2v1h-2zM134 236h1v1h-1zM324 236h1v1h-1zM480 236h1v1h-1zM561 236h1v1h-1zM719 236h1v1h-1zM832 236h1v1h-1zM78 237h2v1h-2zM135 237h2v1h-2zM324 237h1v1h-1zM481 237h1v1h-1zM560 237h1v1h-1zM719 237h1v1h-1zM831 237h1v1h-1zM77 238h1v1h-1zM137 238h1v1h-1zM323 238h1v1h-1zM482 238h1v1h-1zM559 238h1v1h-1zM720 238h1v1h-1zM831 238h1v1h-1zM75 239h2v1h-2zM138 239h1v1h-1zM323 239h1v1h-1zM482 239h1v1h-1zM559 239h1v1h-1zM721 239h1v1h-1zM830 239h1v1h-1zM74 240h1v1h-1zM139 240h1v1h-1zM322 240h1v1h-1zM483 240h1v1h-1zM558 240h1v1h-1zM722 240h1v1h-1zM830 240h1v1h-1zM73 241h1v1h-1zM140 241h1v1h-1zM322 241h1v1h-1zM483 241h1v1h-1zM557 241h1v1h-1zM723 241h1v1h-1zM829 241h1v1h-1zM72 242h1v1h-1zM141 242h1v1h-1zM321 242h1v1h-1zM484 242h1v1h-1zM555 242h2v1h-2zM723 242h1v1h-1zM828 242h1v1h-1zM35 243h4v1h-4zM71 243h1v1h-1zM142 243h1v1h-1zM321 243h1v1h-1zM484 243h1v1h-1zM554 243h1v1h-1zM724 243h1v1h-1zM828 243h1v1h-1zM32 244h3v1h-3zM39 244h3v1h-3zM70 244h1v1h-1zM142 244h1v1h-1zM321 244h1v1h-1zM485 244h1v1h-1zM553 244h1v1h-1zM725 244h1v1h-1zM827 244h1v1h-1zM30 245h2v1h-2zM42 245h2v1h-2zM69 245h1v1h-1zM143 245h1v1h-1zM320 245h1v1h-1zM486 245h1v1h-1zM551 245h2v1h-2zM726 245h1v1h-1zM827 245h1v1h-1zM29 246h1v1h-1zM44 246h2v1h-2zM68 246h1v1h-1zM144 246h1v1h-1zM320 246h1v1h-1zM486 246h1v1h-1zM550 246h1v1h-1zM726 246h1v1h-1zM826 246h1v1h-1zM28 247h1v1h-1zM46 247h1v1h-1zM67 247h1v1h-1zM144 247h1v1h-1zM319 247h1v1h-1zM487 247h1v1h-1zM549 247h1v1h-1zM727 247h1v1h-1zM826 247h1v1h-1zM27 248h1v1h-1zM47 248h1v1h-1zM67 248h1v1h-1zM145 248h1v1h-1zM319 248h1v1h-1zM488 248h1v1h-1zM548 248h1v1h-1zM727 248h1v1h-1zM825 248h1v1h-1zM26 249h1v1h-1zM48 249h1v1h-1zM66 249h1v1h-1zM146 249h1v1h-1zM318 249h1v1h-1zM488 249h1v1h-1zM547 249h1v1h-1zM728 249h1v1h-1zM824 249h1v1h-1zM24 250h2v1h-2zM49 250h1v1h-1zM65 250h1v1h-1zM146 250h1v1h-1zM318 250h1v1h-1zM489 250h1v1h-1zM546 250h1v1h-1zM728 250h1v1h-1zM824 250h1v1h-1zM22 251h2v1h-2zM50 251h2v1h-2zM63 251h2v1h-2zM147 251h1v1h-1zM317 251h1v1h-1zM490 251h1v1h-1zM545 251h1v1h-1zM729 251h1v1h-1zM823 251h1v1h-1zM19 252h3v1h-3zM52 252h7v1h-7zM62 252h1v1h-1zM147 252h1v1h-1zM317 252h1v1h-1zM490 252h1v1h-1zM544 252h1v1h-1zM730 252h1v1h-1zM823 252h1v1h-1zM15 253h4v1h-4zM59 253h3v1h-3zM148 253h1v1h-1zM316 253h1v1h-1zM491 253h1v1h-1zM543 253h1v1h-1zM730 253h1v1h-1zM822 253h1v1h-1zM5 254h10v1h-10zM148 254h1v1h-1zM316 254h1v1h-1zM492 254h1v1h-1zM543 254h1v1h-1zM731 254h1v1h-1zM822 254h1v1h-1zM149 255h1v1h-1zM315 255h1v1h-1zM492 255h1v1h-1zM542 255h1v1h-1zM731 255h1v1h-1zM821 255h1v1h-1zM149 256h1v1h-1zM315 256h1v1h-1zM493 256h1v1h-1zM541 256h1v1h-1zM732 256h1v1h-1zM820 256h1v1h-1zM150 257h1v1h-1zM314 257h1v1h-1zM494 257h1v1h-1zM540 257h1v1h-1zM732 257h1v1h-1zM820 257h1v1h-1zM150 258h1v1h-1zM314 258h1v1h-1zM495 258h1v1h-1zM539 258h1v1h-1zM733 258h1v1h-1zM819 258h1v1h-1zM151 259h1v1h-1zM313 259h1v1h-1zM496 259h1v1h-1zM538 259h1v1h-1zM733 259h1v1h-1zM818 259h1v1h-1zM151 260h1v1h-1zM312 260h1v1h-1zM497 260h1v1h-1zM531 260h7v1h-7zM734 260h1v1h-1zM818 260h1v1h-1zM152 261h1v1h-1zM312 261h1v1h-1zM498 261h1v1h-1zM527 261h4v1h-4zM734 261h1v1h-1zM817 261h1v1h-1zM152 262h1v1h-1zM311 262h1v1h-1zM499 262h2v1h-2zM516 262h11v1h-11zM735 262h1v1h-1zM816 262h1v1h-1zM153 263h1v1h-1zM311 263h1v1h-1zM501 263h6v1h-6zM514 263h2v1h-2zM736 263h1v1h-1zM816 263h1v1h-1zM153 264h1v1h-1zM310 264h1v1h-1zM507 264h7v1h-7zM736 264h1v1h-1zM815 264h1v1h-1zM153 265h1v1h-1zM310 265h1v1h-1zM737 265h1v1h-1zM815 265h1v1h-1zM154 266h1v1h-1zM309 266h1v1h-1zM738 266h1v1h-1zM814 266h1v1h-1zM154 267h1v1h-1zM308 267h1v1h-1zM738 267h1v1h-1zM814 267h1v1h-1zM155 268h1v1h-1zM308 268h1v1h-1zM739 268h1v1h-1zM813 268h1v1h-1zM155 269h1v1h-1zM307 269h1v1h-1zM740 269h1v1h-1zM812 269h1v1h-1zM155 270h1v1h-1zM306 270h1v1h-1zM740 270h1v1h-1zM811 270h1v1h-1zM156 271h1v1h-1zM306 271h1v1h-1zM741 271h1v1h-1zM811 271h1v1h-1zM156 272h1v1h-1zM305 272h1v1h-1zM742 272h1v1h-1zM810 272h1v1h-1zM157 273h1v1h-1zM305 273h1v1h-1zM743 273h1v1h-1zM809 273h1v1h-1zM157 274h1v1h-1zM304 274h1v1h-1zM743 274h1v1h-1zM808 274h1v1h-1zM157 275h1v1h-1zM304 275h1v1h-1zM744 275h1v1h-1zM807 275h1v1h-1zM158 276h1v1h-1zM303 276h1v1h-1zM745 276h1v1h-1zM807 276h1v1h-1zM158 277h1v1h-1zM303 277h1v1h-1zM746 277h1v1h-1zM806 277h1v1h-1zM159 278h1v1h-1zM302 278h1v1h-1zM747 278h1v1h-1zM805 278h1v1h-1zM159 279h1v1h-1zM302 279h1v1h-1zM748 279h1v1h-1zM804 279h1v1h-1zM160 280h1v1h-1zM301 280h1v1h-1zM749 280h1v1h-1zM803 280h1v1h-1zM160 281h1v1h-1zM301 281h1v1h-1zM750 281h1v1h-1zM803 281h1v1h-1zM161 282h1v1h-1zM300 282h1v1h-1zM751 282h1v1h-1zM802 282h1v1h-1zM161 283h1v1h-1zM300 283h1v1h-1zM751 283h1v1h-1zM800 283h2v1h-2zM162 284h1v1h-1zM299 284h1v1h-1zM752 284h1v1h-1zM798 284h2v1h-2zM162 285h1v1h-1zM299 285h1v1h-1zM753 285h1v1h-1zM793 285h5v1h-5zM163 286h1v1h-1zM298 286h1v1h-1zM754 286h1v1h-1zM791 286h2v1h-2zM164 287h1v1h-1zM298 287h1v1h-1zM755 287h1v1h-1zM790 287h1v1h-1zM164 288h1v1h-1zM297 288h1v1h-1zM756 288h1v1h-1zM787 288h3v1h-3zM165 289h1v1h-1zM296 289h1v1h-1zM757 289h1v1h-1zM784 289h3v1h-3zM166 290h1v1h-1zM296 290h1v1h-1zM758 290h1v1h-1zM782 290h2v1h-2zM166 291h1v1h-1zM295 291h1v1h-1zM759 291h2v1h-2zM763 291h8v1h-8zM775 291h7v1h-7zM167 292h1v1h-1zM294 292h1v1h-1zM761 292h2v1h-2zM771 292h4v1h-4zM167 293h1v1h-1zM294 293h1v1h-1zM168 294h1v1h-1zM293 294h1v1h-1zM168 295h1v1h-1zM292 295h1v1h-1zM169 296h1v1h-1zM292 296h1v1h-1zM170 297h1v1h-1zM291 297h1v1h-1zM170 298h1v1h-1zM290 298h1v1h-1zM171 299h1v1h-1zM290 299h1v1h-1zM171 300h1v1h-1zM289 300h1v1h-1zM172 301h1v1h-1zM288 301h1v1h-1zM172 302h1v1h-1zM288 302h1v1h-1zM173 303h1v1h-1zM287 303h1v1h-1zM174 304h1v1h-1zM287 304h1v1h-1zM174 305h1v1h-1zM286 305h1v1h-1zM175 306h1v1h-1zM286 306h1v1h-1zM176 307h1v1h-1zM285 307h1v1h-1zM176 308h1v1h-1zM285 308h1v1h-1zM177 309h1v1h-1zM284 309h1v1h-1zM178 310h1v1h-1zM284 310h1v1h-1zM178 311h1v1h-1zM283 311h1v1h-1zM179 312h1v1h-1zM283 312h1v1h-1zM180 313h1v1h-1zM282 313h1v1h-1zM180 314h1v1h-1zM282 314h1v1h-1zM181 315h1v1h-1zM281 315h1v1h-1zM181 316h1v1h-1zM280 316h1v1h-1zM182 317h1v1h-1zM280 317h1v1h-1zM182 318h1v1h-1zM279 318h1v1h-1zM183 319h1v1h-1zM278 319h1v1h-1zM183 320h1v1h-1zM278 320h1v1h-1zM184 321h1v1h-1zM277 321h1v1h-1zM184 322h1v1h-1zM276 322h1v1h-1zM185 323h1v1h-1zM276 323h1v1h-1zM185 324h1v1h-1zM275 324h1v1h-1zM186 325h1v1h-1zM274 325h1v1h-1zM186 326h1v1h-1zM274 326h1v1h-1zM187 327h1v1h-1zM273 327h1v1h-1zM188 328h1v1h-1zM272 328h1v1h-1zM188 329h1v1h-1zM271 329h1v1h-1zM189 330h1v1h-1zM271 330h1v1h-1zM190 331h1v1h-1zM270 331h1v1h-1zM190 332h1v1h-1zM269 332h1v1h-1zM191 333h1v1h-1zM268 333h1v1h-1zM192 334h1v1h-1zM267 334h1v1h-1zM192 335h1v1h-1zM267 335h1v1h-1zM193 336h1v1h-1zM266 336h1v1h-1zM194 337h1v1h-1zM265 337h1v1h-1zM195 338h1v1h-1zM264 338h1v1h-1zM195 339h1v1h-1zM263 339h1v1h-1zM196 340h1v1h-1zM262 340h1v1h-1zM197 341h1v1h-1zM261 341h1v1h-1zM198 342h1v1h-1zM260 342h1v1h-1zM198 343h1v1h-1zM259 343h1v1h-1zM199 344h1v1h-1zM258 344h1v1h-1zM200 345h1v1h-1zM257 345h1v1h-1zM200 346h1v1h-1zM256 346h1v1h-1zM201 347h1v1h-1zM255 347h1v1h-1zM202 348h1v1h-1zM254 348h1v1h-1zM203 349h1v1h-1zM253 349h1v1h-1zM204 350h1v1h-1zM252 350h1v1h-1zM205 351h1v1h-1zM251 351h1v1h-1zM206 352h1v1h-1zM251 352h1v1h-1zM207 353h1v1h-1zM250 353h1v1h-1zM207 354h1v1h-1zM249 354h1v1h-1zM208 355h1v1h-1zM248 355h1v1h-1zM209 356h1v1h-1zM247 356h1v1h-1zM210 357h1v1h-1zM246 357h1v1h-1zM211 358h2v1h-2zM245 358h1v1h-1zM213 359h2v1h-2zM243 359h2v1h-2zM215 360h3v1h-3zM242 360h1v1h-1zM218 361h1v1h-1zM239 361h3v1h-3zM219 362h2v1h-2zM236 362h3v1h-3zM221 363h6v1h-6zM234 363h2v1h-2zM227 364h7v1h-7z" fill="#0000ff"/></g><rect x="1169" y="59" width="41" height="11" fill="#ff0000"/><text x="1173" y="68" font-size="10.2" fill="#ffffff" textLength="32" lengthAdjust="spacingAndGlyphs">1.30328</text><rect x="1169" y="124" width="41" height="11" fill="#ff0000"/><text x="1173" y="133" font-size="10.2" fill="#ffffff" textLength="32" lengthAdjust="spacingAndGlyphs">1.28912</text><rect x="1169" y="188" width="41" height="11" fill="#00ff00"/><text x="1173" y="197" font-size="10.2" fill="#ffffff" textLength="32" lengthAdjust="spacingAndGlyphs">1.27515</text><rect x="1169" y="244" width="41" height="11" fill="#0000ff"/><text x="1173" y="253" font-size="10.2" fill="#ffffff" textLength="32" lengthAdjust="spacingAndGlyphs">1.26303</text><rect x="1169" y="313" width="41" height="11" fill="#0000ff"/><text x="1173" y="322" font-size="10.2" fill="#ffffff" textLength="32" lengthAdjust="spacingAndGlyphs">1.24800</text><rect x="1169" y="386" width="41" height="11" fill="#0000ff"/><text x="1173" y="395" font-size="10.2" fill="#ffffff" textLength="32" lengthAdjust="spacingAndGlyphs">1.23203</text><rect x="1169" y="202" width="41" height="11" fill="#000000"/><text x="1173" y="211" font-size="10.2" fill="#ffffff" textLength="32" lengthAdjust="spacingAndGlyphs">1.27228</text><path d="M8 33 L15 33 L11.5 37 Z" fill="#000"/><text x="20.6" y="37.8" font-size="10.2" fill="#000" textLength="68" lengthAdjust="spacingAndGlyphs">USDCAD-,Daily</text><text x="95.4" y="37.8" font-size="10.2" fill="#000" textLength="140" lengthAdjust="spacingAndGlyphs">1.27730 1.27817 1.27215 1.27228</text><defs><pattern id="hist" width="2" height="2" patternUnits="userSpaceOnUse"><rect width="2" height="2" fill="#c0c0c0"/><rect width="1" height="1" fill="#b4b4b4"/><rect x="1" y="1" width="1" height="1" fill="#b4b4b4"/></pattern></defs><g clip-path="url(#macdclip)"><clipPath id="macdclip"><rect x="5" y="420" width="1162" height="71"/></clipPath><rect x="4" y="451" width="3" height="7" fill="#c0c0c0"/><rect x="8" y="454" width="3" height="4" fill="#c0c0c0"/><rect x="12" y="457" width="3" height="1" fill="#c0c0c0"/><rect x="16" y="458" width="3" height="1" fill="#c0c0c0"/><rect x="20" y="458" width="3" height="3" fill="#c0c0c0"/><rect x="24" y="458" width="3" height="1" fill="#c0c0c0"/><rect x="28" y="456" width="3" height="2" fill="#c0c0c0"/><rect x="32" y="454" width="3" height="4" fill="#c0c0c0"/><rect x="36" y="453" width="3" height="5" fill="#c0c0c0"/><rect x="40" y="452" width="3" height="6" fill="#c0c0c0"/><rect x="44" y="452" width="3" height="6" fill="#c0c0c0"/><rect x="48" y="451" width="3" height="7" fill="#c0c0c0"/><rect x="52" y="452" width="3" height="6" fill="#c0c0c0"/><rect x="56" y="451" width="3" height="7" fill="#c0c0c0"/><rect x="60" y="449" width="3" height="9" fill="#c0c0c0"/><rect x="64" y="447" width="3" height="11" fill="#c0c0c0"/><rect x="68" y="444" width="3" height="14" fill="#c0c0c0"/><rect x="72" y="441" width="3" height="17" fill="#c0c0c0"/><rect x="76" y="441" width="3" height="17" fill="#c0c0c0"/><rect x="80" y="444" width="3" height="14" fill="#c0c0c0"/><rect x="84" y="446" width="3" height="12" fill="#c0c0c0"/><rect x="88" y="449" width="3" height="9" fill="#c0c0c0"/><rect x="92" y="452" width="3" height="6" fill="#c0c0c0"/><rect x="96" y="453" width="3" height="5" fill="#c0c0c0"/><rect x="100" y="451" width="3" height="7" fill="#c0c0c0"/><rect x="104" y="452" width="3" height="6" fill="#c0c0c0"/><rect x="108" y="454" width="3" height="4" fill="#c0c0c0"/><rect x="112" y="456" width="3" height="2" fill="#c0c0c0"/><rect x="116" y="458" width="3" height="1" fill="#c0c0c0"/><rect x="120" y="458" width="3" height="3" fill="#c0c0c0"/><rect x="124" y="458" width="3" height="5" fill="#c0c0c0"/><rect x="128" y="458" width="3" height="7" fill="#c0c0c0"/><rect x="132" y="458" width="3" height="12" fill="#c0c0c0"/><rect x="136" y="458" width="3" height="14" fill="#c0c0c0"/><rect x="140" y="458" width="3" height="16" fill="#c0c0c0"/><rect x="144" y="458" width="3" height="17" fill="#c0c0c0"/><rect x="148" y="458" width="3" height="20" fill="#c0c0c0"/><rect x="152" y="458" width="3" height="23" fill="#c0c0c0"/><rect x="156" y="458" width="3" height="25" fill="#c0c0c0"/><rect x="160" y="458" width="3" height="26" fill="#c0c0c0"/><rect x="164" y="458" width="3" height="27" fill="#c0c0c0"/><rect x="168" y="458" width="3" height="28" fill="#c0c0c0"/><rect x="172" y="458" width="3" height="30" fill="#c0c0c0"/><rect x="176" y="458" width="3" height="29" fill="#c0c0c0"/><rect x="180" y="458" width="3" height="28" fill="#c0c0c0"/><rect x="184" y="458" width="3" height="27" fill="#c0c0c0"/><rect x="188" y="458" width="3" height="26" fill="#c0c0c0"/><rect x="192" y="458" width="3" height="24" fill="#c0c0c0"/><rect x="196" y="458" width="3" height="23" fill="#c0c0c0"/><rect x="200" y="458" width="3" height="23" fill="#c0c0c0"/><rect x="204" y="458" width="3" height="22" fill="#c0c0c0"/><rect x="208" y="458" width="3" height="20" fill="#c0c0c0"/><rect x="212" y="458" width="3" height="19" fill="#c0c0c0"/><rect x="216" y="458" width="3" height="17" fill="#c0c0c0"/><rect x="220" y="458" width="3" height="16" fill="#c0c0c0"/><rect x="224" y="458" width="3" height="13" fill="#c0c0c0"/><rect x="228" y="458" width="3" height="10" fill="#c0c0c0"/><rect x="232" y="458" width="3" height="8" fill="#c0c0c0"/><rect x="236" y="458" width="3" height="7" fill="#c0c0c0"/><rect x="240" y="458" width="3" height="6" fill="#c0c0c0"/><rect x="244" y="458" width="3" height="3" fill="#c0c0c0"/><rect x="248" y="456" width="3" height="2" fill="#c0c0c0"/><rect x="252" y="454" width="3" height="4" fill="#c0c0c0"/><rect x="256" y="452" width="3" height="6" fill="#c0c0c0"/><rect x="260" y="451" width="3" height="7" fill="#c0c0c0"/><rect x="264" y="450" width="3" height="8" fill="#c0c0c0"/><rect x="268" y="447" width="3" height="11" fill="#c0c0c0"/><rect x="272" y="445" width="3" height="13" fill="#c0c0c0"/><rect x="276" y="442" width="3" height="16" fill="#c0c0c0"/><rect x="280" y="441" width="3" height="17" fill="#c0c0c0"/><rect x="284" y="438" width="3" height="20" fill="#c0c0c0"/><rect x="288" y="437" width="3" height="21" fill="#c0c0c0"/><rect x="292" y="437" width="3" height="21" fill="#c0c0c0"/><rect x="296" y="437" width="3" height="21" fill="#c0c0c0"/><rect x="300" y="434" width="3" height="24" fill="#c0c0c0"/><rect x="304" y="433" width="3" height="25" fill="#c0c0c0"/><rect x="308" y="433" width="3" height="25" fill="#c0c0c0"/><rect x="312" y="431" width="3" height="27" fill="#c0c0c0"/><rect x="316" y="430" width="3" height="28" fill="#c0c0c0"/><rect x="320" y="429" width="3" height="29" fill="#c0c0c0"/><rect x="324" y="427" width="3" height="31" fill="#c0c0c0"/><rect x="328" y="427" width="3" height="31" fill="#c0c0c0"/><rect x="332" y="430" width="3" height="28" fill="#c0c0c0"/><rect x="336" y="435" width="3" height="23" fill="#c0c0c0"/><rect x="340" y="439" width="3" height="19" fill="#c0c0c0"/><rect x="344" y="441" width="3" height="17" fill="#c0c0c0"/><rect x="348" y="442" width="3" height="16" fill="#c0c0c0"/><rect x="352" y="443" width="3" height="15" fill="#c0c0c0"/><rect x="356" y="442" width="3" height="16" fill="#c0c0c0"/><rect x="360" y="439" width="3" height="19" fill="#c0c0c0"/><rect x="364" y="438" width="3" height="20" fill="#c0c0c0"/><rect x="368" y="440" width="3" height="18" fill="#c0c0c0"/><rect x="372" y="438" width="3" height="20" fill="#c0c0c0"/><rect x="376" y="436" width="3" height="22" fill="#c0c0c0"/><rect x="380" y="434" width="3" height="24" fill="#c0c0c0"/><rect x="384" y="433" width="3" height="25" fill="#c0c0c0"/><rect x="388" y="434" width="3" height="24" fill="#c0c0c0"/><rect x="392" y="437" width="3" height="21" fill="#c0c0c0"/><rect x="396" y="439" width="3" height="19" fill="#c0c0c0"/><rect x="400" y="441" width="3" height="17" fill="#c0c0c0"/><rect x="404" y="444" width="3" height="14" fill="#c0c0c0"/><rect x="408" y="445" width="3" height="13" fill="#c0c0c0"/><rect x="412" y="447" width="3" height="11" fill="#c0c0c0"/><rect x="416" y="450" width="3" height="8" fill="#c0c0c0"/><rect x="420" y="456" width="3" height="2" fill="#c0c0c0"/><rect x="424" y="458" width="3" height="1" fill="#c0c0c0"/><rect x="428" y="458" width="3" height="2" fill="#c0c0c0"/><rect x="432" y="458" width="3" height="3" fill="#c0c0c0"/><rect x="436" y="458" width="3" height="3" fill="#c0c0c0"/><rect x="440" y="458" width="3" height="3" fill="#c0c0c0"/><rect x="444" y="458" width="3" height="6" fill="#c0c0c0"/><rect x="448" y="458" width="3" height="8" fill="#c0c0c0"/><rect x="452" y="458" width="3" height="9" fill="#c0c0c0"/><rect x="456" y="458" width="3" height="12" fill="#c0c0c0"/><rect x="460" y="458" width="3" height="17" fill="#c0c0c0"/><rect x="464" y="458" width="3" height="20" fill="#c0c0c0"/><rect x="468" y="458" width="3" height="21" fill="#c0c0c0"/><rect x="472" y="458" width="3" height="22" fill="#c0c0c0"/><rect x="476" y="458" width="3" height="23" fill="#c0c0c0"/><rect x="480" y="458" width="3" height="24" fill="#c0c0c0"/><rect x="484" y="458" width="3" height="25" fill="#c0c0c0"/><rect x="488" y="458" width="3" height="25" fill="#c0c0c0"/><rect x="492" y="458" width="3" height="23" fill="#c0c0c0"/><rect x="496" y="458" width="3" height="21" fill="#c0c0c0"/><rect x="500" y="458" width="3" height="18" fill="#c0c0c0"/><rect x="504" y="458" width="3" height="15" fill="#c0c0c0"/><rect x="508" y="458" width="3" height="12" fill="#c0c0c0"/><rect x="512" y="458" width="3" height="6" fill="#c0c0c0"/><rect x="516" y="458" width="3" height="1" fill="#c0c0c0"/><rect x="520" y="456" width="3" height="2" fill="#c0c0c0"/><rect x="524" y="454" width="3" height="4" fill="#c0c0c0"/><rect x="528" y="454" width="3" height="4" fill="#c0c0c0"/><rect x="532" y="454" width="3" height="4" fill="#c0c0c0"/><rect x="536" y="454" width="3" height="4" fill="#c0c0c0"/><rect x="540" y="452" width="3" height="6" fill="#c0c0c0"/><rect x="544" y="451" width="3" height="7" fill="#c0c0c0"/><rect x="548" y="452" width="3" height="6" fill="#c0c0c0"/><rect x="552" y="452" width="3" height="6" fill="#c0c0c0"/><rect x="556" y="453" width="3" height="5" fill="#c0c0c0"/><rect x="560" y="452" width="3" height="6" fill="#c0c0c0"/><rect x="564" y="451" width="3" height="7" fill="#c0c0c0"/><rect x="568" y="451" width="3" height="7" fill="#c0c0c0"/><rect x="572" y="451" width="3" height="7" fill="#c0c0c0"/><rect x="576" y="451" width="3" height="7" fill="#c0c0c0"/><rect x="580" y="452" width="3" height="6" fill="#c0c0c0"/><rect x="584" y="453" width="3" height="5" fill="#c0c0c0"/><rect x="588" y="452" width="3" height="6" fill="#c0c0c0"/><rect x="592" y="452" width="3" height="6" fill="#c0c0c0"/><rect x="596" y="451" width="3" height="7" fill="#c0c0c0"/><rect x="600" y="450" width="3" height="8" fill="#c0c0c0"/><rect x="604" y="451" width="3" height="7" fill="#c0c0c0"/><rect x="608" y="449" width="3" height="9" fill="#c0c0c0"/><rect x="612" y="451" width="3" height="7" fill="#c0c0c0"/><rect x="616" y="451" width="3" height="7" fill="#c0c0c0"/><rect x="620" y="454" width="3" height="4" fill="#c0c0c0"/><rect x="624" y="454" width="3" height="4" fill="#c0c0c0"/><rect x="628" y="457" width="3" height="1" fill="#c0c0c0"/><rect x="632" y="458" width="3" height="1" fill="#c0c0c0"/><rect x="644" y="455" width="3" height="3" fill="#c0c0c0"/><rect x="648" y="451" width="3" height="7" fill="#c0c0c0"/><rect x="652" y="450" width="3" height="8" fill="#c0c0c0"/><rect x="656" y="451" width="3" height="7" fill="#c0c0c0"/><rect x="660" y="452" width="3" height="6" fill="#c0c0c0"/><rect x="664" y="453" width="3" height="5" fill="#c0c0c0"/><rect x="668" y="452" width="3" height="6" fill="#c0c0c0"/><rect x="672" y="452" width="3" height="6" fill="#c0c0c0"/><rect x="676" y="455" width="3" height="3" fill="#c0c0c0"/><rect x="684" y="458" width="3" height="4" fill="#c0c0c0"/><rect x="688" y="458" width="3" height="7" fill="#c0c0c0"/><rect x="692" y="458" width="3" height="10" fill="#c0c0c0"/><rect x="696" y="458" width="3" height="12" fill="#c0c0c0"/><rect x="700" y="458" width="3" height="14" fill="#c0c0c0"/><rect x="704" y="458" width="3" height="17" fill="#c0c0c0"/><rect x="708" y="458" width="3" height="20" fill="#c0c0c0"/><rect x="712" y="458" width="3" height="22" fill="#c0c0c0"/><rect x="716" y="458" width="3" height="22" fill="#c0c0c0"/><rect x="720" y="458" width="3" height="23" fill="#c0c0c0"/><rect x="724" y="458" width="3" height="24" fill="#c0c0c0"/><rect x="728" y="458" width="3" height="23" fill="#c0c0c0"/><rect x="732" y="458" width="3" height="23" fill="#c0c0c0"/><rect x="736" y="458" width="3" height="21" fill="#c0c0c0"/><rect x="740" y="458" width="3" height="21" fill="#c0c0c0"/><rect x="744" y="458" width="3" height="21" fill="#c0c0c0"/><rect x="748" y="458" width="3" height="18" fill="#c0c0c0"/><rect x="752" y="458" width="3" height="15" fill="#c0c0c0"/><rect x="756" y="458" width="3" height="13" fill="#c0c0c0"/><rect x="760" y="458" width="3" height="11" fill="#c0c0c0"/><rect x="764" y="458" width="3" height="8" fill="#c0c0c0"/><rect x="768" y="458" width="3" height="5" fill="#c0c0c0"/><rect x="772" y="458" width="3" height="5" fill="#c0c0c0"/><rect x="776" y="458" width="3" height="4" fill="#c0c0c0"/><rect x="780" y="458" width="3" height="3" fill="#c0c0c0"/><rect x="784" y="458" width="3" height="1" fill="#c0c0c0"/><rect x="788" y="458" width="3" height="1" fill="#c0c0c0"/><rect x="796" y="458" width="3" height="4" fill="#c0c0c0"/><rect x="800" y="458" width="3" height="3" fill="#c0c0c0"/><rect x="804" y="457" width="3" height="1" fill="#c0c0c0"/><rect x="808" y="453" width="3" height="5" fill="#c0c0c0"/><rect x="812" y="450" width="3" height="8" fill="#c0c0c0"/><rect x="816" y="446" width="3" height="12" fill="#c0c0c0"/><rect x="820" y="442" width="3" height="16" fill="#c0c0c0"/><rect x="824" y="440" width="3" height="18" fill="#c0c0c0"/><rect x="828" y="438" width="3" height="20" fill="#c0c0c0"/><rect x="832" y="435" width="3" height="23" fill="#c0c0c0"/><rect x="836" y="434" width="3" height="24" fill="#c0c0c0"/><rect x="840" y="433" width="3" height="25" fill="#c0c0c0"/><rect x="844" y="436" width="3" height="22" fill="#c0c0c0"/><rect x="848" y="436" width="3" height="22" fill="#c0c0c0"/><rect x="852" y="434" width="3" height="24" fill="#c0c0c0"/><rect x="856" y="432" width="3" height="26" fill="#c0c0c0"/><rect x="860" y="429" width="3" height="29" fill="#c0c0c0"/><rect x="864" y="426" width="3" height="32" fill="#c0c0c0"/><rect x="868" y="425" width="3" height="33" fill="#c0c0c0"/><rect x="872" y="423" width="3" height="35" fill="#c0c0c0"/><rect x="876" y="425" width="3" height="33" fill="#c0c0c0"/><rect x="880" y="428" width="3" height="30" fill="#c0c0c0"/><rect x="884" y="432" width="3" height="26" fill="#c0c0c0"/><rect x="888" y="437" width="3" height="21" fill="#c0c0c0"/><rect x="892" y="439" width="3" height="19" fill="#c0c0c0"/><rect x="896" y="442" width="3" height="16" fill="#c0c0c0"/><rect x="900" y="444" width="3" height="14" fill="#c0c0c0"/><rect x="904" y="447" width="3" height="11" fill="#c0c0c0"/><rect x="908" y="450" width="3" height="8" fill="#c0c0c0"/><rect x="912" y="451" width="3" height="7" fill="#c0c0c0"/><rect x="916" y="453" width="3" height="5" fill="#c0c0c0"/><rect x="920" y="455" width="3" height="3" fill="#c0c0c0"/><rect x="924" y="458" width="3" height="1" fill="#c0c0c0"/><path d="M883 428h4v1h-4zM879 429h4v1h-4zM887 429h7v1h-7zM331 430h4v1h-4zM875 430h4v1h-4zM894 430h2v1h-2zM327 431h4v1h-4zM335 431h8v1h-8zM871 431h4v1h-4zM896 431h2v1h-2zM323 432h4v1h-4zM343 432h4v1h-4zM867 432h4v1h-4zM898 432h2v1h-2zM319 433h4v1h-4zM347 433h3v1h-3zM863 433h4v1h-4zM900 433h2v1h-2zM316 434h3v1h-3zM350 434h2v1h-2zM859 434h4v1h-4zM902 434h2v1h-2zM314 435h2v1h-2zM352 435h3v1h-3zM856 435h3v1h-3zM904 435h2v1h-2zM311 436h3v1h-3zM355 436h3v1h-3zM391 436h8v1h-8zM854 436h2v1h-2zM906 436h1v1h-1zM307 437h4v1h-4zM358 437h2v1h-2zM387 437h4v1h-4zM399 437h8v1h-8zM851 437h3v1h-3zM907 437h2v1h-2zM304 438h3v1h-3zM360 438h3v1h-3zM383 438h4v1h-4zM407 438h4v1h-4zM847 438h4v1h-4zM909 438h1v1h-1zM302 439h2v1h-2zM363 439h4v1h-4zM379 439h4v1h-4zM411 439h3v1h-3zM844 439h3v1h-3zM910 439h1v1h-1zM299 440h3v1h-3zM367 440h12v1h-12zM414 440h2v1h-2zM842 440h2v1h-2zM911 440h2v1h-2zM296 441h3v1h-3zM416 441h2v1h-2zM841 441h1v1h-1zM913 441h1v1h-1zM294 442h2v1h-2zM418 442h1v1h-1zM839 442h2v1h-2zM914 442h1v1h-1zM292 443h2v1h-2zM419 443h2v1h-2zM838 443h1v1h-1zM915 443h2v1h-2zM5 444h1v1h-1zM290 444h2v1h-2zM421 444h1v1h-1zM837 444h1v1h-1zM917 444h1v1h-1zM6 445h2v1h-2zM288 445h2v1h-2zM422 445h2v1h-2zM835 445h2v1h-2zM918 445h1v1h-1zM8 446h3v1h-3zM83 446h16v1h-16zM286 446h2v1h-2zM424 446h2v1h-2zM834 446h1v1h-1zM919 446h2v1h-2zM11 447h4v1h-4zM79 447h4v1h-4zM99 447h4v1h-4zM284 447h2v1h-2zM426 447h1v1h-1zM833 447h1v1h-1zM921 447h1v1h-1zM15 448h3v1h-3zM75 448h4v1h-4zM103 448h4v1h-4zM282 448h2v1h-2zM427 448h2v1h-2zM831 448h2v1h-2zM922 448h2v1h-2zM18 449h2v1h-2zM71 449h4v1h-4zM107 449h3v1h-3zM280 449h2v1h-2zM429 449h1v1h-1zM830 449h1v1h-1zM924 449h2v1h-2zM20 450h2v1h-2zM67 450h4v1h-4zM110 450h2v1h-2zM278 450h2v1h-2zM430 450h2v1h-2zM828 450h2v1h-2zM22 451h2v1h-2zM63 451h4v1h-4zM112 451h3v1h-3zM276 451h2v1h-2zM432 451h2v1h-2zM607 451h16v1h-16zM826 451h2v1h-2zM24 452h2v1h-2zM59 452h4v1h-4zM115 452h3v1h-3zM274 452h2v1h-2zM434 452h1v1h-1zM563 452h44v1h-44zM623 452h8v1h-8zM675 452h4v1h-4zM824 452h2v1h-2zM26 453h2v1h-2zM56 453h3v1h-3zM118 453h2v1h-2zM272 453h2v1h-2zM435 453h2v1h-2zM551 453h12v1h-12zM631 453h4v1h-4zM667 453h8v1h-8zM679 453h4v1h-4zM822 453h2v1h-2zM28 454h3v1h-3zM54 454h2v1h-2zM120 454h2v1h-2zM270 454h2v1h-2zM437 454h2v1h-2zM547 454h4v1h-4zM635 454h8v1h-8zM659 454h8v1h-8zM683 454h3v1h-3zM820 454h2v1h-2zM31 455h4v1h-4zM47 455h7v1h-7zM122 455h2v1h-2zM269 455h1v1h-1zM439 455h3v1h-3zM544 455h3v1h-3zM643 455h16v1h-16zM686 455h2v1h-2zM818 455h2v1h-2zM35 456h12v1h-12zM124 456h3v1h-3zM267 456h2v1h-2zM442 456h1v1h-1zM542 456h2v1h-2zM688 456h3v1h-3zM816 456h2v1h-2zM127 457h3v1h-3zM266 457h1v1h-1zM443 457h2v1h-2zM541 457h1v1h-1zM691 457h3v1h-3zM814 457h2v1h-2zM130 458h2v1h-2zM264 458h2v1h-2zM445 458h1v1h-1zM539 458h2v1h-2zM694 458h2v1h-2zM811 458h3v1h-3zM132 459h2v1h-2zM262 459h2v1h-2zM446 459h2v1h-2zM538 459h1v1h-1zM696 459h2v1h-2zM807 459h4v1h-4zM134 460h2v1h-2zM260 460h2v1h-2zM448 460h2v1h-2zM536 460h2v1h-2zM698 460h2v1h-2zM803 460h4v1h-4zM136 461h2v1h-2zM258 461h2v1h-2zM450 461h2v1h-2zM534 461h2v1h-2zM700 461h2v1h-2zM795 461h8v1h-8zM138 462h1v1h-1zM256 462h2v1h-2zM452 462h3v1h-3zM533 462h1v1h-1zM702 462h1v1h-1zM792 462h3v1h-3zM139 463h2v1h-2zM254 463h2v1h-2zM455 463h3v1h-3zM531 463h2v1h-2zM703 463h2v1h-2zM790 463h2v1h-2zM141 464h1v1h-1zM253 464h1v1h-1zM458 464h2v1h-2zM530 464h1v1h-1zM705 464h1v1h-1zM787 464h3v1h-3zM142 465h2v1h-2zM251 465h2v1h-2zM460 465h2v1h-2zM529 465h1v1h-1zM706 465h1v1h-1zM784 465h3v1h-3zM144 466h2v1h-2zM250 466h1v1h-1zM462 466h2v1h-2zM527 466h2v1h-2zM707 466h2v1h-2zM782 466h2v1h-2zM146 467h1v1h-1zM248 467h2v1h-2zM464 467h2v1h-2zM526 467h1v1h-1zM709 467h1v1h-1zM780 467h2v1h-2zM147 468h2v1h-2zM246 468h2v1h-2zM466 468h2v1h-2zM525 468h1v1h-1zM710 468h1v1h-1zM778 468h2v1h-2zM149 469h1v1h-1zM244 469h2v1h-2zM468 469h2v1h-2zM523 469h2v1h-2zM711 469h2v1h-2zM776 469h2v1h-2zM150 470h2v1h-2zM242 470h2v1h-2zM470 470h2v1h-2zM522 470h1v1h-1zM713 470h1v1h-1zM774 470h2v1h-2zM152 471h2v1h-2zM240 471h2v1h-2zM472 471h2v1h-2zM521 471h1v1h-1zM714 471h2v1h-2zM772 471h2v1h-2zM154 472h2v1h-2zM238 472h2v1h-2zM474 472h2v1h-2zM519 472h2v1h-2zM716 472h2v1h-2zM770 472h2v1h-2zM156 473h2v1h-2zM235 473h3v1h-3zM476 473h2v1h-2zM518 473h1v1h-1zM718 473h2v1h-2zM768 473h2v1h-2zM158 474h1v1h-1zM232 474h3v1h-3zM478 474h2v1h-2zM517 474h1v1h-1zM720 474h2v1h-2zM766 474h2v1h-2zM159 475h2v1h-2zM230 475h2v1h-2zM480 475h2v1h-2zM515 475h2v1h-2zM722 475h2v1h-2zM764 475h2v1h-2zM161 476h1v1h-1zM228 476h2v1h-2zM482 476h2v1h-2zM514 476h1v1h-1zM724 476h2v1h-2zM762 476h2v1h-2zM162 477h2v1h-2zM226 477h2v1h-2zM484 477h2v1h-2zM512 477h2v1h-2zM726 477h2v1h-2zM759 477h3v1h-3zM164 478h2v1h-2zM223 478h3v1h-3zM486 478h2v1h-2zM510 478h2v1h-2zM728 478h3v1h-3zM755 478h4v1h-4zM166 479h2v1h-2zM219 479h4v1h-4zM488 479h3v1h-3zM507 479h3v1h-3zM731 479h4v1h-4zM751 479h4v1h-4zM168 480h2v1h-2zM216 480h3v1h-3zM491 480h4v1h-4zM499 480h8v1h-8zM735 480h16v1h-16zM170 481h2v1h-2zM214 481h2v1h-2zM495 481h4v1h-4zM172 482h3v1h-3zM211 482h3v1h-3zM175 483h4v1h-4zM207 483h4v1h-4zM179 484h4v1h-4zM203 484h4v1h-4zM183 485h20v1h-20z" fill="#ff0000"/></g><g clip-path="url(#rsiclip)"><clipPath id="rsiclip"><rect x="5" y="494" width="1162" height="73"/></clipPath><path d="M301 514h1v1h-1zM300 515h1v1h-1zM302 515h1v1h-1zM323 515h3v1h-3zM863 515h3v1h-3zM284 516h2v1h-2zM300 516h1v1h-1zM302 516h1v1h-1zM316 516h7v1h-7zM326 516h2v1h-2zM861 516h2v1h-2zM866 516h1v1h-1zM277 517h2v1h-2zM282 517h2v1h-2zM286 517h1v1h-1zM299 517h1v1h-1zM303 517h1v1h-1zM314 517h2v1h-2zM328 517h2v1h-2zM831 517h7v1h-7zM859 517h2v1h-2zM867 517h2v1h-2zM871 517h3v1h-3zM249 518h1v1h-1zM276 518h1v1h-1zM279 518h3v1h-3zM287 518h2v1h-2zM298 518h1v1h-1zM304 518h1v1h-1zM312 518h2v1h-2zM330 518h1v1h-1zM828 518h3v1h-3zM838 518h1v1h-1zM858 518h1v1h-1zM869 518h2v1h-2zM874 518h1v1h-1zM249 519h2v1h-2zM275 519h1v1h-1zM289 519h1v1h-1zM298 519h1v1h-1zM304 519h1v1h-1zM310 519h2v1h-2zM330 519h1v1h-1zM361 519h1v1h-1zM380 519h3v1h-3zM817 519h6v1h-6zM826 519h2v1h-2zM839 519h1v1h-1zM855 519h3v1h-3zM874 519h1v1h-1zM71 520h3v1h-3zM248 520h1v1h-1zM251 520h1v1h-1zM269 520h2v1h-2zM274 520h1v1h-1zM290 520h2v1h-2zM295 520h3v1h-3zM305 520h5v1h-5zM331 520h1v1h-1zM359 520h2v1h-2zM362 520h1v1h-1zM378 520h2v1h-2zM383 520h3v1h-3zM815 520h2v1h-2zM823 520h3v1h-3zM840 520h1v1h-1zM853 520h2v1h-2zM875 520h1v1h-1zM68 521h3v1h-3zM74 521h1v1h-1zM248 521h1v1h-1zM252 521h1v1h-1zM267 521h2v1h-2zM271 521h3v1h-3zM292 521h3v1h-3zM332 521h1v1h-1zM358 521h1v1h-1zM363 521h2v1h-2zM373 521h5v1h-5zM386 521h1v1h-1zM516 521h2v1h-2zM814 521h1v1h-1zM841 521h1v1h-1zM852 521h1v1h-1zM875 521h1v1h-1zM66 522h2v1h-2zM75 522h2v1h-2zM247 522h1v1h-1zM253 522h2v1h-2zM266 522h1v1h-1zM332 522h1v1h-1zM357 522h1v1h-1zM365 522h1v1h-1zM372 522h1v1h-1zM386 522h1v1h-1zM514 522h2v1h-2zM518 522h1v1h-1zM649 522h1v1h-1zM811 522h3v1h-3zM842 522h1v1h-1zM851 522h1v1h-1zM876 522h1v1h-1zM63 523h3v1h-3zM77 523h1v1h-1zM247 523h1v1h-1zM255 523h3v1h-3zM265 523h1v1h-1zM333 523h1v1h-1zM356 523h1v1h-1zM366 523h1v1h-1zM371 523h1v1h-1zM387 523h1v1h-1zM513 523h1v1h-1zM519 523h2v1h-2zM609 523h1v1h-1zM648 523h1v1h-1zM650 523h1v1h-1zM805 523h6v1h-6zM842 523h1v1h-1zM850 523h1v1h-1zM876 523h1v1h-1zM61 524h2v1h-2zM78 524h1v1h-1zM246 524h1v1h-1zM258 524h1v1h-1zM264 524h1v1h-1zM333 524h1v1h-1zM356 524h1v1h-1zM367 524h1v1h-1zM371 524h1v1h-1zM388 524h1v1h-1zM512 524h1v1h-1zM521 524h1v1h-1zM608 524h2v1h-2zM647 524h1v1h-1zM650 524h1v1h-1zM805 524h1v1h-1zM843 524h1v1h-1zM849 524h1v1h-1zM877 524h1v1h-1zM28 525h2v1h-2zM59 525h2v1h-2zM78 525h1v1h-1zM246 525h1v1h-1zM259 525h1v1h-1zM263 525h1v1h-1zM334 525h1v1h-1zM355 525h1v1h-1zM368 525h1v1h-1zM370 525h1v1h-1zM388 525h1v1h-1zM512 525h1v1h-1zM522 525h1v1h-1zM541 525h5v1h-5zM599 525h3v1h-3zM608 525h1v1h-1zM610 525h1v1h-1zM646 525h1v1h-1zM651 525h1v1h-1zM804 525h1v1h-1zM843 525h1v1h-1zM848 525h1v1h-1zM878 525h2v1h-2zM26 526h2v1h-2zM30 526h2v1h-2zM39 526h3v1h-3zM49 526h1v1h-1zM58 526h1v1h-1zM79 526h1v1h-1zM101 526h1v1h-1zM245 526h1v1h-1zM260 526h1v1h-1zM262 526h1v1h-1zM334 526h1v1h-1zM354 526h1v1h-1zM369 526h1v1h-1zM389 526h1v1h-1zM511 526h1v1h-1zM523 526h2v1h-2zM540 526h1v1h-1zM546 526h1v1h-1zM591 526h8v1h-8zM602 526h1v1h-1zM607 526h1v1h-1zM610 526h1v1h-1zM645 526h1v1h-1zM652 526h1v1h-1zM765 526h2v1h-2zM804 526h1v1h-1zM844 526h1v1h-1zM847 526h1v1h-1zM880 526h2v1h-2zM25 527h1v1h-1zM32 527h7v1h-7zM42 527h1v1h-1zM47 527h2v1h-2zM50 527h1v1h-1zM57 527h1v1h-1zM79 527h1v1h-1zM100 527h1v1h-1zM102 527h1v1h-1zM244 527h1v1h-1zM261 527h1v1h-1zM335 527h1v1h-1zM347 527h4v1h-4zM354 527h1v1h-1zM390 527h2v1h-2zM510 527h1v1h-1zM525 527h1v1h-1zM539 527h1v1h-1zM546 527h1v1h-1zM561 527h6v1h-6zM588 527h3v1h-3zM603 527h1v1h-1zM606 527h1v1h-1zM611 527h1v1h-1zM644 527h1v1h-1zM652 527h1v1h-1zM669 527h1v1h-1zM764 527h1v1h-1zM767 527h3v1h-3zM803 527h1v1h-1zM844 527h1v1h-1zM847 527h1v1h-1zM882 527h1v1h-1zM25 528h1v1h-1zM43 528h2v1h-2zM46 528h1v1h-1zM51 528h1v1h-1zM56 528h1v1h-1zM80 528h1v1h-1zM99 528h1v1h-1zM103 528h1v1h-1zM227 528h4v1h-4zM243 528h1v1h-1zM335 528h1v1h-1zM345 528h2v1h-2zM351 528h3v1h-3zM392 528h3v1h-3zM399 528h3v1h-3zM408 528h2v1h-2zM510 528h1v1h-1zM526 528h2v1h-2zM539 528h1v1h-1zM547 528h1v1h-1zM560 528h1v1h-1zM567 528h11v1h-11zM586 528h2v1h-2zM604 528h1v1h-1zM606 528h1v1h-1zM611 528h1v1h-1zM617 528h1v1h-1zM643 528h1v1h-1zM653 528h1v1h-1zM668 528h1v1h-1zM670 528h1v1h-1zM763 528h1v1h-1zM770 528h1v1h-1zM803 528h1v1h-1zM845 528h2v1h-2zM883 528h1v1h-1zM893 528h1v1h-1zM5 529h1v1h-1zM24 529h1v1h-1zM45 529h1v1h-1zM51 529h1v1h-1zM55 529h1v1h-1zM80 529h1v1h-1zM98 529h1v1h-1zM103 529h1v1h-1zM225 529h2v1h-2zM231 529h4v1h-4zM243 529h1v1h-1zM335 529h1v1h-1zM344 529h1v1h-1zM395 529h4v1h-4zM402 529h2v1h-2zM406 529h2v1h-2zM410 529h1v1h-1zM508 529h2v1h-2zM528 529h7v1h-7zM538 529h1v1h-1zM547 529h1v1h-1zM553 529h1v1h-1zM559 529h1v1h-1zM578 529h1v1h-1zM584 529h2v1h-2zM605 529h1v1h-1zM612 529h1v1h-1zM616 529h1v1h-1zM618 529h1v1h-1zM637 529h1v1h-1zM643 529h1v1h-1zM654 529h2v1h-2zM667 529h1v1h-1zM671 529h2v1h-2zM763 529h1v1h-1zM770 529h1v1h-1zM777 529h10v1h-10zM802 529h1v1h-1zM845 529h1v1h-1zM884 529h1v1h-1zM892 529h1v1h-1zM894 529h1v1h-1zM6 530h1v1h-1zM24 530h1v1h-1zM52 530h1v1h-1zM54 530h1v1h-1zM81 530h1v1h-1zM97 530h1v1h-1zM104 530h1v1h-1zM225 530h1v1h-1zM235 530h4v1h-4zM242 530h1v1h-1zM336 530h1v1h-1zM343 530h1v1h-1zM404 530h2v1h-2zM411 530h2v1h-2zM506 530h2v1h-2zM535 530h3v1h-3zM548 530h1v1h-1zM551 530h2v1h-2zM554 530h2v1h-2zM558 530h1v1h-1zM579 530h2v1h-2zM582 530h2v1h-2zM612 530h1v1h-1zM615 530h1v1h-1zM618 530h1v1h-1zM625 530h1v1h-1zM636 530h1v1h-1zM638 530h2v1h-2zM642 530h1v1h-1zM656 530h2v1h-2zM666 530h1v1h-1zM673 530h1v1h-1zM752 530h2v1h-2zM762 530h1v1h-1zM771 530h1v1h-1zM776 530h1v1h-1zM787 530h7v1h-7zM802 530h1v1h-1zM885 530h1v1h-1zM891 530h1v1h-1zM895 530h1v1h-1zM900 530h2v1h-2zM7 531h1v1h-1zM23 531h1v1h-1zM53 531h1v1h-1zM81 531h2v1h-2zM96 531h1v1h-1zM105 531h1v1h-1zM224 531h1v1h-1zM239 531h3v1h-3zM336 531h1v1h-1zM342 531h1v1h-1zM413 531h1v1h-1zM437 531h1v1h-1zM501 531h5v1h-5zM548 531h1v1h-1zM550 531h1v1h-1zM556 531h2v1h-2zM581 531h1v1h-1zM613 531h2v1h-2zM619 531h1v1h-1zM624 531h1v1h-1zM626 531h1v1h-1zM635 531h1v1h-1zM640 531h2v1h-2zM658 531h2v1h-2zM663 531h3v1h-3zM674 531h1v1h-1zM750 531h2v1h-2zM754 531h2v1h-2zM759 531h3v1h-3zM772 531h1v1h-1zM775 531h1v1h-1zM793 531h1v1h-1zM801 531h1v1h-1zM886 531h2v1h-2zM890 531h1v1h-1zM896 531h1v1h-1zM898 531h2v1h-2zM902 531h2v1h-2zM912 531h6v1h-6zM7 532h1v1h-1zM23 532h1v1h-1zM83 532h7v1h-7zM95 532h1v1h-1zM106 532h2v1h-2zM224 532h1v1h-1zM337 532h1v1h-1zM339 532h3v1h-3zM414 532h1v1h-1zM429 532h1v1h-1zM435 532h2v1h-2zM438 532h2v1h-2zM500 532h1v1h-1zM549 532h1v1h-1zM613 532h1v1h-1zM620 532h1v1h-1zM623 532h1v1h-1zM627 532h1v1h-1zM635 532h1v1h-1zM660 532h3v1h-3zM675 532h1v1h-1zM749 532h1v1h-1zM756 532h3v1h-3zM772 532h1v1h-1zM774 532h1v1h-1zM794 532h1v1h-1zM801 532h1v1h-1zM888 532h2v1h-2zM897 532h1v1h-1zM904 532h3v1h-3zM910 532h2v1h-2zM918 532h1v1h-1zM8 533h1v1h-1zM22 533h1v1h-1zM90 533h2v1h-2zM94 533h1v1h-1zM108 533h3v1h-3zM223 533h1v1h-1zM337 533h2v1h-2zM415 533h2v1h-2zM428 533h1v1h-1zM430 533h2v1h-2zM434 533h1v1h-1zM440 533h2v1h-2zM499 533h1v1h-1zM620 533h1v1h-1zM622 533h1v1h-1zM627 533h1v1h-1zM634 533h1v1h-1zM676 533h1v1h-1zM749 533h1v1h-1zM773 533h1v1h-1zM794 533h1v1h-1zM800 533h1v1h-1zM907 533h3v1h-3zM919 533h2v1h-2zM9 534h1v1h-1zM22 534h1v1h-1zM92 534h2v1h-2zM111 534h3v1h-3zM217 534h1v1h-1zM223 534h1v1h-1zM417 534h1v1h-1zM428 534h1v1h-1zM432 534h2v1h-2zM442 534h1v1h-1zM498 534h1v1h-1zM621 534h1v1h-1zM628 534h1v1h-1zM631 534h3v1h-3zM677 534h1v1h-1zM748 534h1v1h-1zM795 534h1v1h-1zM800 534h1v1h-1zM921 534h1v1h-1zM10 535h1v1h-1zM16 535h6v1h-6zM114 535h2v1h-2zM216 535h1v1h-1zM218 535h1v1h-1zM222 535h1v1h-1zM418 535h1v1h-1zM427 535h1v1h-1zM443 535h1v1h-1zM452 535h2v1h-2zM493 535h5v1h-5zM629 535h2v1h-2zM678 535h2v1h-2zM748 535h1v1h-1zM795 535h1v1h-1zM799 535h1v1h-1zM922 535h1v1h-1zM11 536h2v1h-2zM14 536h2v1h-2zM116 536h10v1h-10zM215 536h1v1h-1zM219 536h2v1h-2zM222 536h1v1h-1zM418 536h1v1h-1zM426 536h1v1h-1zM443 536h1v1h-1zM450 536h2v1h-2zM454 536h1v1h-1zM492 536h1v1h-1zM680 536h2v1h-2zM747 536h1v1h-1zM796 536h1v1h-1zM799 536h1v1h-1zM923 536h2v1h-2zM13 537h1v1h-1zM126 537h2v1h-2zM215 537h1v1h-1zM221 537h1v1h-1zM419 537h1v1h-1zM426 537h1v1h-1zM444 537h1v1h-1zM447 537h3v1h-3zM455 537h1v1h-1zM492 537h1v1h-1zM682 537h2v1h-2zM687 537h4v1h-4zM736 537h2v1h-2zM747 537h1v1h-1zM796 537h1v1h-1zM798 537h1v1h-1zM925 537h1v1h-1zM128 538h2v1h-2zM207 538h4v1h-4zM214 538h1v1h-1zM420 538h1v1h-1zM424 538h2v1h-2zM445 538h2v1h-2zM455 538h1v1h-1zM469 538h2v1h-2zM491 538h1v1h-1zM684 538h3v1h-3zM691 538h7v1h-7zM734 538h2v1h-2zM738 538h1v1h-1zM746 538h1v1h-1zM797 538h2v1h-2zM130 539h1v1h-1zM192 539h2v1h-2zM205 539h2v1h-2zM211 539h3v1h-3zM420 539h1v1h-1zM422 539h2v1h-2zM456 539h1v1h-1zM468 539h1v1h-1zM471 539h3v1h-3zM490 539h1v1h-1zM698 539h2v1h-2zM717 539h2v1h-2zM728 539h6v1h-6zM739 539h2v1h-2zM746 539h1v1h-1zM797 539h1v1h-1zM131 540h1v1h-1zM137 540h2v1h-2zM190 540h2v1h-2zM194 540h2v1h-2zM204 540h1v1h-1zM421 540h1v1h-1zM457 540h1v1h-1zM467 540h1v1h-1zM474 540h2v1h-2zM483 540h4v1h-4zM490 540h1v1h-1zM700 540h3v1h-3zM715 540h2v1h-2zM719 540h4v1h-4zM726 540h2v1h-2zM741 540h5v1h-5zM131 541h1v1h-1zM135 541h2v1h-2zM139 541h7v1h-7zM187 541h3v1h-3zM196 541h2v1h-2zM203 541h1v1h-1zM458 541h1v1h-1zM466 541h1v1h-1zM476 541h7v1h-7zM487 541h3v1h-3zM703 541h3v1h-3zM714 541h1v1h-1zM723 541h3v1h-3zM132 542h1v1h-1zM134 542h1v1h-1zM146 542h2v1h-2zM177 542h10v1h-10zM198 542h2v1h-2zM202 542h1v1h-1zM459 542h2v1h-2zM463 542h3v1h-3zM706 542h1v1h-1zM712 542h2v1h-2zM133 543h1v1h-1zM148 543h2v1h-2zM176 543h1v1h-1zM200 543h2v1h-2zM461 543h2v1h-2zM707 543h2v1h-2zM710 543h2v1h-2zM150 544h1v1h-1zM176 544h1v1h-1zM709 544h1v1h-1zM151 545h2v1h-2zM155 545h12v1h-12zM175 545h1v1h-1zM153 546h2v1h-2zM167 546h3v1h-3zM174 546h1v1h-1zM170 547h2v1h-2zM174 547h1v1h-1zM172 548h2v1h-2z" fill="#1e90ff"/></g><text x="9.3" y="431.7" font-size="10.2" fill="#000" textLength="150.7" lengthAdjust="spacingAndGlyphs">MACD(12,26,9) -0.000072 0.002619</text><rect x="1168" y="420" width="3" height="1" fill="#000"/><rect x="1168" y="458" width="3" height="1" fill="#000"/><rect x="1168" y="490" width="3" height="1" fill="#000"/><text x="1171" y="430" font-size="10.2" fill="#000" textLength="37.6" lengthAdjust="spacingAndGlyphs">0.010578</text><text x="1171" y="462" font-size="10.2" fill="#000" textLength="18" lengthAdjust="spacingAndGlyphs">0.00</text><text x="1171" y="488" font-size="10.2" fill="#000" textLength="36" lengthAdjust="spacingAndGlyphs">-0.00896</text><text x="9.2" y="505.6" font-size="10.2" fill="#000" textLength="67.4" lengthAdjust="spacingAndGlyphs">RSI(14) 41.8092</text><line x1="5" y1="516.5" x2="1166" y2="516.5" stroke="#c0c0c0" stroke-width="1" stroke-dasharray="3,3"/><line x1="5" y1="545.5" x2="1166" y2="545.5" stroke="#c0c0c0" stroke-width="1" stroke-dasharray="3,3"/><text x="1171" y="504" font-size="10.2" fill="#000" textLength="14.7" lengthAdjust="spacingAndGlyphs">100</text><text x="1171" y="520" font-size="10.2" fill="#000" textLength="9.8" lengthAdjust="spacingAndGlyphs">70</text><text x="1171" y="549" font-size="10.2" fill="#000" textLength="9.8" lengthAdjust="spacingAndGlyphs">30</text><text x="1171" y="564" font-size="10.2" fill="#000" textLength="4.9" lengthAdjust="spacingAndGlyphs">0</text><rect x="0" y="588" width="1211" height="2" fill="#f0f0f0"/><rect x="0" y="590" width="1211" height="1" fill="#000000"/><rect x="0" y="591" width="1211" height="19" fill="#f0f0f0"/><rect x="0" y="610" width="1211" height="1" fill="#ffffff"/><rect x="0" y="591" width="1" height="18" fill="#a0a0a0"/><rect x="1" y="591" width="1" height="18" fill="#696969"/><text x="17.4" y="604.5" font-size="12" fill="#6a6a6a" textLength="77.6" lengthAdjust="spacingAndGlyphs">USDX,Weekly</text><text x="117" y="604.5" font-size="12" fill="#6a6a6a" textLength="84.7" lengthAdjust="spacingAndGlyphs">EURUSD-,Daily</text><text x="223.8" y="604.5" font-size="12" fill="#6a6a6a" textLength="86.6" lengthAdjust="spacingAndGlyphs">AUDUSD-,Daily</text><text x="334" y="604.5" font-size="12" fill="#6a6a6a" textLength="83.6" lengthAdjust="spacingAndGlyphs">USDCHF-,Daily</text><text x="550" y="604.5" font-size="12" fill="#6a6a6a" textLength="87" lengthAdjust="spacingAndGlyphs">USDCNH-,Daily</text><text x="661.4" y="604.5" font-size="12" fill="#6a6a6a" textLength="73.5" lengthAdjust="spacingAndGlyphs">XAUUSD-,H4</text><text x="757.2" y="604.5" font-size="12" fill="#6a6a6a" textLength="68.5" lengthAdjust="spacingAndGlyphs">UKOil-,Daily</text><text x="848.8" y="604.5" font-size="12" fill="#6a6a6a" textLength="77.7" lengthAdjust="spacingAndGlyphs">DJ30-,Weekly</text><text x="949.3" y="604.5" font-size="12" fill="#6a6a6a" textLength="61.1" lengthAdjust="spacingAndGlyphs">UK100-,H1</text><text x="1032.3" y="604.5" font-size="12" fill="#6a6a6a" textLength="86.5" lengthAdjust="spacingAndGlyphs">USOil-,Monthly</text><text x="1140.7" y="604.5" font-size="12" fill="#6a6a6a">HK50-,</text><rect x="106" y="593" width="1" height="14" fill="#505050"/><rect x="214" y="593" width="1" height="14" fill="#505050"/><rect x="322" y="593" width="1" height="14" fill="#505050"/><rect x="650" y="593" width="1" height="14" fill="#505050"/><rect x="746" y="593" width="1" height="14" fill="#505050"/><rect x="838" y="593" width="1" height="14" fill="#505050"/><rect x="938" y="593" width="1" height="14" fill="#505050"/><rect x="1022" y="593" width="1" height="14" fill="#505050"/><rect x="1130" y="593" width="1" height="14" fill="#505050"/><rect x="430" y="590" width="108" height="19" fill="#000"/><rect x="431" y="590" width="106" height="18" fill="#ffffff"/><text x="441.5" y="604.5" font-size="12" fill="#000" textLength="85.5" lengthAdjust="spacingAndGlyphs">USDCAD-,Daily</text><rect x="1177" y="591" width="34" height="19" fill="#f0f0f0"/><path d="M1186.5 595.5 L1182.5 599 L1186.5 602.5 Z" fill="#909090"/><path d="M1201.5 595.5 L1205.5 599 L1201.5 602.5 Z" fill="#000"/></svg></body></html>
